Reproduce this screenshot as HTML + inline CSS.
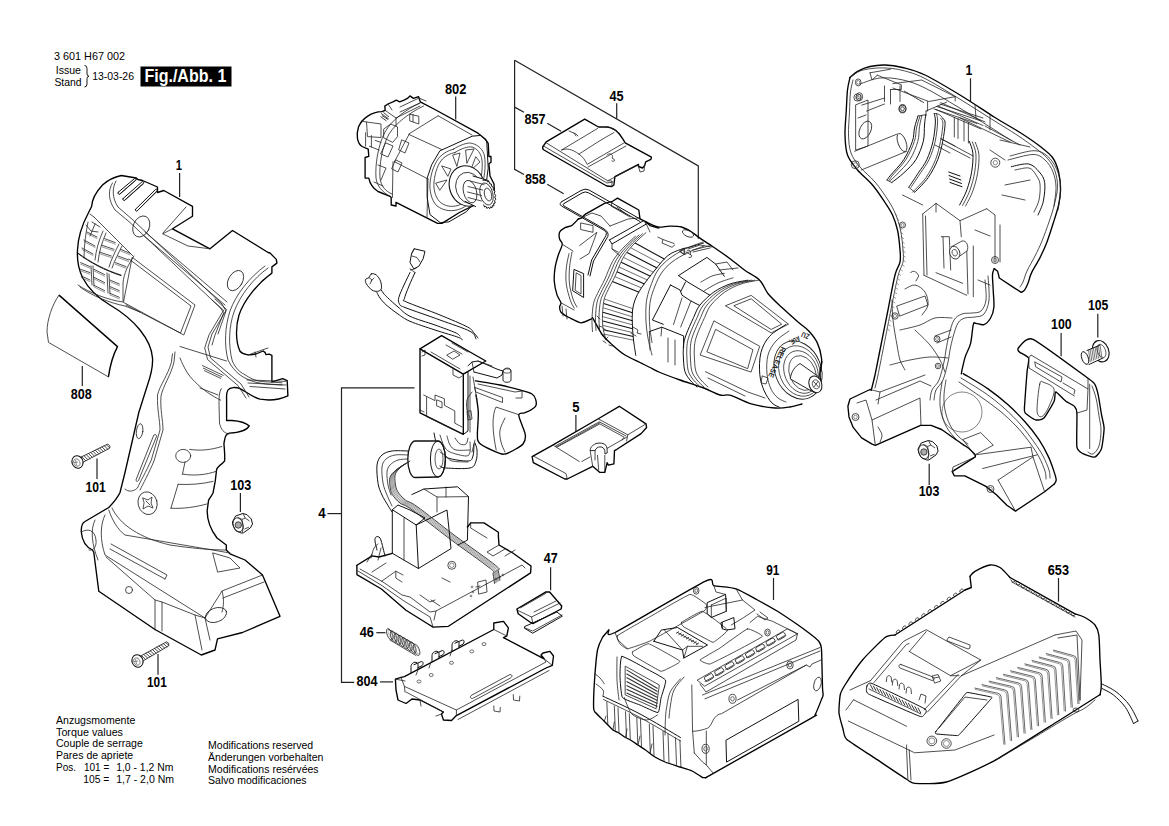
<!DOCTYPE html>
<html><head><meta charset="utf-8"><title>Fig 1</title>
<style>
html,body{margin:0;padding:0;background:#fff;}
body{width:1169px;height:826px;overflow:hidden;}
svg{display:block;}
text{font-family:"Liberation Sans",sans-serif;fill:#000;}
.lb{font-weight:bold;font-size:13.8px;}
.t{font-size:10px;}
.o{fill:none;stroke:#000;stroke-width:1.35;stroke-linejoin:round;stroke-linecap:round;}
.m{fill:none;stroke:#111;stroke-width:1;stroke-linejoin:round;stroke-linecap:round;}
.i{fill:none;stroke:#222;stroke-width:0.8;stroke-linejoin:round;stroke-linecap:round;}
.ld{fill:none;stroke:#222;stroke-width:1.2;}
</style></head>
<body>
<svg width="1169" height="826" viewBox="0 0 1169 826">
<rect width="1169" height="826" fill="#fff"/>
<!-- header -->
<text x="54" y="59.5" style="font-size:11px" textLength="71" lengthAdjust="spacingAndGlyphs">3 601 H67 002</text>
<text x="55.7" y="74" style="font-size:11px" textLength="25.3" lengthAdjust="spacingAndGlyphs">Issue</text>
<text x="54.4" y="86" style="font-size:11px" textLength="27.2" lengthAdjust="spacingAndGlyphs">Stand</text>
<path d="M84.5,65.5 Q87,65.5 87,68.5 L87,74 Q87,76 89,76.2 Q87,76.4 87,78.5 L87,84 Q87,87 84.5,87" fill="none" stroke="#000" stroke-width="0.9"/>
<text x="92.2" y="80" style="font-size:11px" textLength="41.8" lengthAdjust="spacingAndGlyphs">13-03-26</text>
<rect x="140.5" y="66.5" width="91" height="20" fill="#000"/>
<text x="144.4" y="81.8" style="font-size:17.5px;font-weight:bold;fill:#fff" textLength="82" lengthAdjust="spacingAndGlyphs">Fig./Abb. 1</text>
<!-- bottom text -->
<g class="t">
<text x="56" y="723.8" textLength="79.3" lengthAdjust="spacingAndGlyphs">Anzugsmomente</text>
<text x="56" y="735.5" textLength="67" lengthAdjust="spacingAndGlyphs">Torque values</text>
<text x="56" y="747.1" textLength="86.8" lengthAdjust="spacingAndGlyphs">Couple de serrage</text>
<text x="56" y="759.1" textLength="77.2" lengthAdjust="spacingAndGlyphs">Pares de apriete</text>
<text x="56" y="770.8">Pos.</text>
<text x="83.9" y="770.8" textLength="25.4" lengthAdjust="spacingAndGlyphs">101 =</text>
<text x="116.2" y="770.8" textLength="57.2" lengthAdjust="spacingAndGlyphs">1,0 - 1,2 Nm</text>
<text x="83.2" y="782.5" textLength="26.1" lengthAdjust="spacingAndGlyphs">105 =</text>
<text x="116.2" y="782.5" textLength="57.8" lengthAdjust="spacingAndGlyphs">1,7 - 2,0 Nm</text>
<text x="208.1" y="749.2" textLength="105.1" lengthAdjust="spacingAndGlyphs">Modifications reserved</text>
<text x="208.1" y="760.9" textLength="115.3" lengthAdjust="spacingAndGlyphs">Änderungen vorbehalten</text>
<text x="208.1" y="772.5" textLength="110.5" lengthAdjust="spacingAndGlyphs">Modifications resérvées</text>
<text x="208.1" y="784.1" textLength="98.5" lengthAdjust="spacingAndGlyphs">Salvo modificaciones</text>
</g>
<!-- labels -->
<g class="lb">
<text x="175.8" y="170" textLength="6.2" lengthAdjust="spacingAndGlyphs">1</text>
<text x="70.7" y="399" textLength="21" lengthAdjust="spacingAndGlyphs">808</text>
<text x="85.5" y="491.5" textLength="20.2" lengthAdjust="spacingAndGlyphs">101</text>
<text x="230.2" y="490" textLength="21" lengthAdjust="spacingAndGlyphs">103</text>
<text x="147" y="687.3" textLength="19.7" lengthAdjust="spacingAndGlyphs">101</text>
<text x="444.9" y="93.5" textLength="21.5" lengthAdjust="spacingAndGlyphs">802</text>
<text x="609.5" y="100.5" textLength="14.1" lengthAdjust="spacingAndGlyphs">45</text>
<text x="524.5" y="123.7" textLength="21.1" lengthAdjust="spacingAndGlyphs">857</text>
<text x="524.9" y="184" textLength="20.9" lengthAdjust="spacingAndGlyphs">858</text>
<text x="572.2" y="411.7" textLength="7.3" lengthAdjust="spacingAndGlyphs">5</text>
<text x="318.2" y="518" textLength="7.4" lengthAdjust="spacingAndGlyphs">4</text>
<text x="543.7" y="563.2" textLength="13.9" lengthAdjust="spacingAndGlyphs">47</text>
<text x="359.8" y="637" textLength="14.1" lengthAdjust="spacingAndGlyphs">46</text>
<text x="356.4" y="685.6" textLength="21.1" lengthAdjust="spacingAndGlyphs">804</text>
<text x="766.2" y="575" textLength="13.1" lengthAdjust="spacingAndGlyphs">91</text>
<text x="1047.8" y="574.7" textLength="21.2" lengthAdjust="spacingAndGlyphs">653</text>
<text x="965.5" y="75.2" textLength="6.8" lengthAdjust="spacingAndGlyphs">1</text>
<text x="1087.9" y="310.4" textLength="20.4" lengthAdjust="spacingAndGlyphs">105</text>
<text x="1051.1" y="329.3" textLength="20.6" lengthAdjust="spacingAndGlyphs">100</text>
<text x="918.7" y="496.3" textLength="20.8" lengthAdjust="spacingAndGlyphs">103</text>
</g>
<!-- leader lines -->
<g class="ld">
<path d="M179.6,173 V197"/>
<path d="M82.3,366 V386"/>
<path d="M97,458.5 V479"/>
<path d="M240.4,493 V512"/>
<path d="M158,654 V674.7"/>
<path d="M455.7,96.5 V119.6"/>
<path d="M514.6,60.3 L698.3,165.9 V238.8"/>
<path d="M514.6,60.3 V169.3 L524,174.5"/>
<path d="M514.6,107.1 L524,112.3"/>
<path d="M547.2,123.3 L561.1,131.3"/>
<path d="M547.2,184.3 L563.7,193.7"/>
<path d="M616.7,103.3 V118.7"/>
<path d="M575.9,414.9 V432"/>
<path d="M414.5,387.8 H341.5 V682.3 H354.2"/>
<path d="M327.4,513.6 H341.5"/>
<path d="M376.3,632.7 H385.5"/>
<path d="M379.9,681.9 H393"/>
<path d="M550.6,567.2 V590.2"/>
<path d="M773.5,577.9 V600"/>
<path d="M1058.5,578 V601.6"/>
<path d="M970.5,78.3 V101.6"/>
<path d="M1097.8,313.7 V337.5"/>
<path d="M1061.1,333.1 V356.3"/>
<path d="M929.2,463.8 V484.9"/>
</g>

<!-- left housing outline -->
<path class="o" d="M121.3,175.5 L136.3,178 L138,179.5 L142.5,180.5 L157.5,187 L157.5,192.5 L163.8,190.5 L192.5,206.3 L192.5,216.3 L172.5,228.8 L210,248.8 L232.5,230.5 L268.1,252.5 L270,253 L276.3,259.4 L276.9,263.1 L271.9,266.9 L271.9,273.1
C258,283 244,300 239,315 C236,325 235,340 240,351.3 C243,355 250,355.5 256,354 L263.2,351 L265.2,352.6 L265.9,354.6 L269.2,354.2 L271.9,355.3 L271.9,381.9 L282.6,378.6 L287.2,380.6 L287.9,395.9 C280,399.5 270,401 260,399.2 C252,397 245,391 240,388.6 C236,387 230,387 228,390 C226,393 226.6,396 226.6,400 L226.6,420.5 L232,420.5 C240,421 246,423 249.3,425.9 C247,430 240,432.5 229.3,433.2 C226,434 225,437 224.6,440
L223.9,443.6 C224.5,450 225,457 224.6,461 L221.7,463.9 C219,466 217,468 216.6,469.7 L215.2,481.4 L213,493 C211,497 209,499 208.6,500.2 L207.2,510.4 C207,520 211,530 217,538 L226.3,545 L226.3,550 L230,553.8 L245,560 L262.5,575 L280,616.3 L242.5,632.5 L217.5,638.8 L215,650 L201.3,655 L155,629.5 L98.8,591.3 L93.8,552.5 L92.5,550 C86,547 82,540 81.3,532 C81,526 82,523 85,521.5 L108.8,507.5 C114,502 118,497 120,492.5 L125,472.5 L132.5,440 L138.8,412.5 L147.5,385 C151,375 153,365 152.5,358 C152,350 148,340 140,330 C132,320 122,312 110,305 C98,298 88,288 82.5,277.5 C78,268 77,258 77.5,250 C78,238 82,225 88.2,213.3 L91.6,206.5 C92,199 96,192 102.5,185 C108,180 114,177 121.3,175.5 Z"/>
<!-- top slots -->
<path class="m" d="M118.2,192.3 L134.5,178.6 C135.5,177.8 136.8,179 135.8,180 L119.8,194 C118.8,194.8 117.4,193.2 118.2,192.3 Z"/>
<path class="m" d="M123,198.6 L142,181.8 C143,181 144.4,182.3 143.4,183.3 L124.7,200.2 C123.7,201 122.2,199.5 123,198.6 Z"/>
<path class="m" d="M135.5,209.3 L155.7,189.3 C156.7,188.5 158,189.8 157,190.8 L137.2,210.9 C136.2,211.7 134.7,210.2 135.5,209.3 Z"/>
<path class="i" d="M119.5,194.5 L136.5,179.7 M124.5,200.5 L143.8,183.5 M137,211 L157.5,191"/>
<!-- ridge/panel double lines -->
<path class="i" d="M112.5,183 C108,190 108,200 115,210 L130,222.5 L220,307.5 L223.8,312.5 L215,335 L212,345"/>
<path class="i" d="M116,181 C112,188 112,198 118,207 L133,220 L222,304 L226,311 L218,334"/>
<path class="i" d="M143,235 L225,305 M145,232 L227,302"/>
<path class="i" d="M172.5,228.8 L162.6,233.8 L188,246 L210,248.8 M186,207 L163,233"/>
<!-- ovals -->
<ellipse class="i" cx="141.3" cy="226.5" rx="8" ry="11" transform="rotate(25 141.3 226.5)"/>
<ellipse class="i" cx="235.5" cy="280.6" rx="7" ry="11" transform="rotate(30 235.5 280.6)"/>
<!-- arc inner lines -->
<path class="i" d="M268,268 C254,278 240,295 234,312 C229,326 228,345 232.3,361 C236,369 240,372 243.9,374.1 C250,378 255,381 262,381.6 L282,382.8"/>
<path class="i" d="M265,266 C250,277 236,294 230,311 C225,326 224,345 228,360 C232,368 238,375 247,379 C255,383 265,384.5 282,385"/>
<!-- window panel -->
<path class="i" d="M132.5,257.5 L195,305 L183.8,335 L123.8,302.5 Z"/>
<path class="i" d="M129,259 L191,306 L180.5,333 L126,305"/>
<!-- front vent grid -->
<path class="i" d="M94,217 L133,256 M78,253 C90,262 105,270 121,275 M134,256 C128,265 124,273 123,283 L123,301 M78,285 C90,293 108,300 123,302"/>
<path class="m" d="M78,253.5 C90,262.5 105,270.5 121,275.5"/>
<path class="i" d="M103,231 C99,240 96,250 95,260 M106,233 C102,242 99,252 98,262 M119,244 C115,252 111,260 109,267 M122,246 C118,254 114,262 112,268"/>
<path class="i" d="M87,232 L97,237 M84,240 L95,246 M82,248 L93,254 M92,222 L100,227 M95,224 L90,236"/>
<path class="i" d="M104.6,238.6 L115.3,242.6 M102,245.3 L114,249.3 M99.3,252 L111.3,256 M120.6,249.3 L130,253.3 M118,256 L128.6,260 M115.3,262.6 L126,266.6"/>
<path class="i" d="M91,266 L92,285 M93,266 L94,286 M107,273 L108,293 M109,274 L110,294"/>
<path class="i" d="M80.6,262.6 L90,266.6 M80.6,269.3 L90,272.6 M81.3,276 L90,280 M94,269.3 L104.6,274.6 M94,277.3 L104.6,282.6 M94,285.3 L104.6,290.6 M110,280 L119.3,284 M110,286.6 L119.3,290.6 M110,293.3 L119.3,297.3"/>
<path class="i" d="M80,287 C92,296 110,303 125,306 L140,312"/>
<path class="i" d="M87,233.5 L97,238.5 M84,241.5 L95,247.5 M82,249.5 L93,255.5 M104.6,240.2 L115.3,244.2 M102,246.9 L114,250.9 M99.3,253.6 L111.3,257.6 M120.6,250.9 L130,254.9 M118,257.6 L128.6,261.6 M115.3,264.2 L126,268.2 M80.6,264.2 L90,268.2 M80.6,270.9 L90,274.2 M81.3,277.6 L90,281.6 M94,270.9 L104.6,276.2 M94,278.9 L104.6,284.2 M94,286.9 L104.6,292.2 M110,281.6 L119.3,285.6 M110,288.2 L119.3,292.2 M110,294.9 L119.3,298.9" style="stroke:#555;stroke-width:0.6"/>
<path class="i" d="M90,214 L94,217 M86,225 L91,231 L98,232 M88,222 C86,232 84,245 84,258"/>

<!-- handle grip panel -->
<path class="i" d="M172.5,353.8 L171.3,362.5 C168,375 160,385 157.5,395 C157,410 160,420 160,430 L151.3,460 C146,472 140,482 137.5,488 C133,492 128,492 125,489"/>
<path class="i" d="M175,352 L174,362 C171,375 163,386 161,396 C160,410 163,420 163,430 L154,461 C149,473 143,484 140,490"/>
<path class="i" d="M154.1,434.9 C155.5,434 157,435 156.5,436.5 L138.5,480.5 C137.5,482 135.5,481.5 136,479.9 Z"/>
<ellipse class="i" cx="139.6" cy="431.2" rx="3.2" ry="7.5" transform="rotate(8 139.6 431.2)"/>
<path class="i" d="M189.7,449.4 C200,451 211,450 221.7,446.5 M182.5,474.1 C194,476 206,475 216.6,471.2 M185,462 L182.5,474.1 M178.1,484.3 C190,485 202,484 213,481.4 M170.9,508.2 C183,509 196,507 207.2,503.9 M178.1,484.3 L170.9,508.2"/>
<ellipse class="i" cx="183.2" cy="455.9" rx="7.5" ry="6.5"/>
<ellipse class="i" cx="147.6" cy="503.2" rx="9.5" ry="11.5" transform="rotate(-15 147.6 503.2)"/>
<path class="i" d="M143,498 L148,500 L152,497 L151,503 L153,508 L148,506 L143,509 L144,503 Z M146,501 L150,505"/>
<!-- flange / trigger extra -->
<path class="i" d="M212,300 L223.6,310.2 L209,334.9 L204.7,347.9 L207.6,359.6 L238.1,385.7 L246,398"/>
<path class="i" d="M215,299 L226.6,309.5 L212,334 L208,347 L210.5,358 L241,384 L249,397"/>
<path class="i" d="M180,346.5 L226.5,361 M180,358 C184,368 188,375 194.5,381.4 C203,390 212,396 220.7,400.2"/>
<path class="i" d="M246.8,379.9 L286,381.4 M248,383 L286,385 M250,386.5 L285,389"/>
<path d="M202,365.4 L223.6,375.5 M203,368 L222,377 M204,370.5 L221,378.5" fill="none" stroke="#444" stroke-width="0.9"/>
<!-- trigger inner -->
<path class="i" d="M221.3,388.6 C219,392 219,398 219,404 L219.5,423 C221,430 224,433 229,434"/>
<path class="i" d="M200,388 L218,395"/>
<path class="i" d="M248,355 L268,348 M255,352 L256,357"/>
<!-- foot -->
<path class="i" d="M108.8,510 C112,520 118,530 125,535 L230,553 M112,508 C120,525 140,538 170,545 C190,548 210,550 226,550"/>
<path class="i" d="M105,515 C100,525 100,540 105,555 L205,618 L210,640 M95,520 C90,530 92,545 98,560"/>
<path class="i" d="M110,549 L165,579 M111,544 L167,575 L165,579 M106,557 L155,600 L162,602 L162,631"/>
<path class="i" d="M155,600 L155,630"/>
<circle class="i" cx="129" cy="590" r="3.5"/>
<path class="i" d="M162,602 L195,615 L202,650 M195,615 L205,618"/>
<path class="i" d="M222,591 L262.5,575 M223,598 L264,582 M205,618 L222,591 C224,598 224,605 222,612"/>
<ellipse class="i" cx="216" cy="615" rx="11" ry="7" transform="rotate(-20 216 615)"/>
<path class="i" d="M213,553 L230,558 L240,568 L218,572 Z"/>
<path class="i" d="M81.3,532 C88,528 95,530 96,540 C97,548 92,551 89,550"/>


<!-- 808 label sheet -->
<path d="M59,295.1 L117.5,346.6 C113,355 110,366 108.4,376.9" fill="none" stroke="#000" stroke-width="1.4" stroke-linejoin="round"/>
<path class="i" d="M59,295.1 C52,305 47,320 47,332 L48.5,342.4 L108.4,376.9"/>
<!-- screw 101 upper -->
<path d="M81.4,463.1 L109.7,448.2 Q110.7,445.1 107.6,444.2 L78.9,458.1" fill="#fff" stroke="#111" stroke-width="0.8"/>
<path d="M85.8,460.9 L81.7,456.7 M88.0,459.8 L83.9,455.6 M90.3,458.7 L86.1,454.5 M92.5,457.5 L88.3,453.4 M94.7,456.4 L90.6,452.2 M96.9,455.3 L92.8,451.1 M99.2,454.1 L95.0,450.0 M101.4,453.0 L97.2,448.8 M103.6,451.9 L99.5,447.7 M105.8,450.8 L101.7,446.6 M108.1,449.6 L103.9,445.4 M110.0,448.0 L106.4,444.8" fill="none" stroke="#333" stroke-width="0.9"/>
<ellipse cx="77.5" cy="462" rx="5.5" ry="6.3" transform="rotate(-20 77.5 462)" fill="#fff" stroke="#111" stroke-width="1"/>
<ellipse cx="76.7" cy="462.3" rx="3.0" ry="3.8" transform="rotate(-20 77.5 462)" fill="none" stroke="#444" stroke-width="0.6"/>
<path d="M75.5,460.0 L76.5,465.0 M74.0,462.5 L78.0,462.0" fill="none" stroke="#444" stroke-width="0.6"/>
<!-- screw 101 lower -->
<path d="M141.5,661.9 L168.8,645.7 Q169.7,642.6 166.6,641.8 L138.7,657.1" fill="#fff" stroke="#111" stroke-width="0.8"/>
<path d="M145.7,659.5 L141.4,655.5 M147.9,658.3 L143.6,654.3 M150.1,657.1 L145.7,653.1 M152.2,655.8 L147.9,651.9 M154.4,654.6 L150.0,650.6 M156.5,653.4 L152.2,649.4 M158.7,652.1 L154.3,648.2 M160.8,650.9 L156.5,646.9 M163.0,649.7 L158.6,645.7 M165.1,648.4 L160.8,644.5 M167.3,647.2 L162.9,643.2 M169.2,645.5 L165.4,642.5" fill="none" stroke="#333" stroke-width="0.9"/>
<ellipse cx="137.5" cy="661" rx="5.5" ry="6.3" transform="rotate(-20 137.5 661)" fill="#fff" stroke="#111" stroke-width="1"/>
<ellipse cx="136.7" cy="661.3" rx="3.0" ry="3.8" transform="rotate(-20 137.5 661)" fill="none" stroke="#444" stroke-width="0.6"/>
<path d="M135.5,659.0 L136.5,664.0 M134.0,661.5 L138.0,661.0" fill="none" stroke="#444" stroke-width="0.6"/>
<!-- nut 103 left -->
<polygon points="232.4,522.0 235.6,516.0 242.8,513.5 247.0,514.7 251.3,519.0 252.5,524.0 250.4,527.9 243.2,533.0 241.1,533.0 235.6,530.4 233.0,525.3" fill="#fff" stroke="#111" stroke-width="1" stroke-linejoin="round"/>
<ellipse cx="238.1" cy="524.9" rx="4.9" ry="7.2" transform="rotate(-15 238.1 524.9)" fill="none" stroke="#222" stroke-width="0.8"/>
<circle cx="238.3" cy="525.0" r="3.2" fill="#aaa" stroke="#222" stroke-width="0.8"/>
<path d="M237.7,517.3 242.0,519.4 245.3,518.1 242.8,513.5 M242.0,519.4 243.2,527.9 242.4,532.5 M248.9,527.2 244.5,529.0 M245.3,518.1 249.5,521.0" fill="none" stroke="#222" stroke-width="0.8"/>

<!-- motor 802 -->
<path class="o" d="M381.8,111.7 C372,112 362,118 358.5,127 C356,135 357,143 362,146.5 L368.2,149.1 L368.8,156.3 L365.1,157.5 L365.1,178.1 L368.8,178.1 C370,184 374,189 378,191.5 L390,196.3 L391.2,197.5 L391.2,205 L396,206 L396,202.3 L437.6,223.4 L442,223.4 L459.4,212.5 L476.9,203.8 L485,200 L491,197 L494.3,190.7 L494,184 L490,176 L488.9,163.8 L491,162.3 L491,156.5 L488.9,156.5 L488.2,143.4 L485.2,139 L478,133.2 L435.8,110 L420.3,101.8 L418.6,96.7 L413.4,98.4 L410,95.9 L407.4,98.4 L404,100.1 L399.7,101.8 L396.3,100.1 L392.9,101.8 L388,104 L384.8,106.1 L385.2,110.4 Z"/>
<path class="i" d="M420,103 C405,110 392,120 385,132 C378,145 375,165 376,178 C377,186 382,192 390,196.3"/>
<path class="i" d="M423.5,106 C409,113 396,123 389,134 C382,147 379,165 380,178 C381,186 385,191 392,194"/>
<path class="i" d="M393,161.7 L392.4,197.5 M394.5,161.7 L428,179 M409,134.5 L441.7,149.5 M409,134.5 L394.5,161.7 M428,179 L427,216.9 M438.1,115.8 L409.1,133.8 M438.1,115.8 L472,135"/>
<path class="m" d="M440.2,150.7 L472.2,136.2 L480.9,135.4 L486.7,141.2 L488.2,168.1 L486.7,179.7 L479.4,197.2 L466.4,211.7 L448.9,221.9 L440.2,222.6 L430,214.6 L427.1,197.2 L427.1,178.3 L431.5,165.2 Z"/>
<path class="i" d="M453.3,149.2 C460,145 468,142 472.2,143.4 C478,145 483,149 484.5,156 C486,165 485,180 479.4,191.4 C474,200 468,206 460,209 C452,212 444,211 437,206 C431,200 429.5,190 430,183 C431,172 435,162 440.2,156.5 C444,153 448,150.5 453.3,149.2 Z"/>
<path class="i" d="M455,152.5 C462,148 468,146.5 472,147 C477,148.5 481,153 482,160 C483,170 481,182 476,190 C471,198 465,203 458,205.5 C451,207.5 444,206 439.5,201.5 C434.5,196 433.5,188 434,182 C435,172 438,164 442.5,159 C446,155.5 450,153.5 455,152.5 Z"/>
<path class="i" d="M453,155 L460,153 L457,166 Z M466,150 L474,149 L467,163 Z M442,166 L451,169 L448,176 Z M436,183 L447,180 L440,190 Z M476,157 L480,162 L471,170 Z"/>
<ellipse cx="467" cy="186" rx="17.5" ry="20.5" transform="rotate(-20 467 186)" fill="#fff" stroke="#111" stroke-width="1.1"/>
<ellipse class="i" cx="469" cy="188" rx="13" ry="16" transform="rotate(-20 469 188)"/>
<path d="M471,180.5 L473,176 L488.3,180 L494,194 L486,207.5 L475.6,206.6 L465,201.3 Z" fill="#fff" stroke="none"/>
<path d="M483.0,181.0 L483.8,179.2 L485.2,180.9 L486.4,179.7 L487.5,181.9 L489.0,181.4 L489.8,183.8 L491.3,184.0 L491.8,186.5 L493.4,187.4 L493.3,189.8 L494.8,191.3 L494.4,193.5 L495.6,195.5 L494.8,197.1 L495.8,199.5 L494.6,200.6 L495.1,203.1 L493.7,203.5 L493.8,205.9 L492.3,205.6 L492.0,207.9 L490.4,206.9 L489.7,208.7 L488.2,207.2 L487.1,208.5 L485.9,206.4 L484.6,207.0 L483.6,204.6" fill="#fff" stroke="#111" stroke-width="1"/>
<ellipse cx="486.5" cy="194" rx="6.3" ry="11.3" transform="rotate(-15 486.5 194)" fill="none" stroke="#222" stroke-width="0.8"/>
<ellipse cx="488" cy="194.5" rx="3.5" ry="6.5" transform="rotate(-15 488 194.5)" fill="none" stroke="#222" stroke-width="0.8"/>
<path class="m" d="M473,176 L488.3,180.5 M465,201.3 L475.6,206.6"/>
<ellipse cx="470" cy="191.6" rx="6.5" ry="11.5" transform="rotate(-15 470 191.6)" fill="none" stroke="#222" stroke-width="0.8"/>
<path class="i" d="M470,181 L484,184.5 M468,186.5 L482.5,190 M467.5,192 L481.5,195.5 M468,197.5 L481.5,201"/>
<!-- brush holder details -->
<path class="i" d="M361.7,121 L366.5,122 L381,124 L381,137.5 L367.5,136.6 L366.5,122 M365.6,132.7 L365.6,146.2 M371.4,135.6 L371.4,147 M375.2,140.4 L381,142.4 M369.4,146.2 L379.1,150.1"/>
<path class="i" d="M384,128.8 L390.7,124 L397.5,127 L397.5,136.6 L392.7,142.4 L384,138 Z M386,143 L393,146 L388,157 L381,154 Z M410.1,114.3 L418.8,116.2 L418.8,124 L410.1,121 Z M413,114.5 L413,121.5"/>
<path d="M381,113.3 L388.8,119.1 M382,115.5 L388,119.5 M383.5,112.5 L389,117 M380.5,116.5 L386.5,121" fill="none" stroke="#444" stroke-width="1"/>
<path class="i" d="M385.2,110.4 L396,118 L420,106 M396,118 L396,126 M400,107 L419,98 L426,101 M400,112 L420,103 M388,104 L392,110"/>
<path class="i" d="M402,140 L409,143 L405,153 L399,150 Z M396,160 L402,163 L398,172 L392,169 Z M378,165 L386,168 L381,180 M374,182 L383,186"/>

<!-- chuck assembly 45 -->
<path class="o" d="M591.6,318.8 C590.2,319.3 583.9,323.0 580.9,322.8 C577.9,322.6 571.7,318.9 569.0,317.5 C566.3,316.1 562.3,313.6 561.0,312.2 C559.7,310.8 559.6,308.1 559.6,306.8 C559.6,305.5 561.3,304.4 561.0,302.8 C560.7,301.2 557.9,297.7 557.0,294.9 C556.1,292.1 554.6,285.1 554.3,281.5 C554.0,277.9 554.5,271.7 555.0,268.2 C555.5,264.7 557.3,258.2 558.3,255.0 C559.3,251.8 562.1,246.4 562.3,244.3 C562.5,242.2 560.0,240.6 559.6,239.0 C559.2,237.4 558.9,233.8 559.6,232.3 C560.3,230.8 563.4,228.5 565.0,227.6 C566.6,226.7 569.8,226.7 571.6,225.6 C573.4,224.5 577.4,219.9 578.3,219.0"/>
<path class="o" d="M578.3,219.0 L581.3,218.1 L585.0,214.4 L605.0,203.1 L612.5,201.3 L617.5,198.1 L638.8,210.0 L640.0,218.8 L645.0,221.3 L650.0,225.6 L658.8,228.1"/>
<path class="o" d="M645.9,221.9 C647.9,222.8 653.8,226.3 657.8,227.0 C661.8,227.7 665.8,226.1 669.7,226.1 C673.7,226.1 677.8,226.0 681.5,227.0 C685.2,228.0 688.9,230.3 691.7,232.0 C694.5,233.7 695.7,235.1 698.5,237.1 C701.3,239.1 705.2,241.6 708.6,243.9 C712.0,246.2 715.1,248.1 718.8,250.7 C722.5,253.2 726.4,256.0 730.7,259.2 C735.0,262.4 739.6,266.5 744.4,270.0 C749.2,273.5 755.8,276.2 759.7,280.2 C763.7,284.1 764.4,289.2 768.1,293.7 C771.8,298.2 776.6,302.5 781.7,307.3 C786.8,312.1 794.1,318.6 798.6,322.5 C803.1,326.4 805.7,327.6 808.8,331.0 C811.9,334.4 815.2,338.4 817.3,342.9 C819.4,347.4 820.9,353.3 821.5,358.1 C822.1,362.9 820.8,369.4 820.7,371.7"/>
<path class="o" d="M592.5,317.5 C594.2,320.4 599.2,330.4 602.5,335.0 C605.8,339.6 608.8,341.7 612.5,345.0 C616.2,348.3 620.4,352.1 625.0,355.0 C629.6,357.9 635.8,360.4 640.0,362.5 C644.2,364.6 646.7,365.8 650.0,367.5 C653.3,369.2 655.0,370.4 660.0,372.5 C665.0,374.6 672.9,377.5 680.0,380.0 C687.1,382.5 695.8,385.0 702.5,387.5 C709.2,390.0 715.3,393.7 720.0,395.0 C724.7,396.3 725.6,393.9 730.8,395.4 C736.0,396.9 743.8,401.8 751.2,403.9 C758.6,406.0 768.5,407.5 775.0,408.0 C781.5,408.5 785.5,407.7 790.0,407.0 C794.5,406.3 800.0,404.5 802.0,404.0"/>
<path class="i" d="M646.0,232.6 C643.8,234.7 636.8,240.8 633.0,245.0 C629.2,249.2 626.0,252.8 623.0,258.0 C620.0,263.2 617.5,271.0 615.0,276.3 C612.5,281.6 609.8,286.1 608.0,290.0 C606.2,293.9 604.9,295.8 604.0,300.0 C603.1,304.2 602.7,310.3 602.5,315.0 C602.3,319.7 602.5,324.2 603.0,328.0 C603.5,331.8 605.1,336.3 605.5,338.0"/>
<path class="m" d="M703.6,243.0 C701.3,243.7 693.9,245.9 690.0,247.0 C686.1,248.1 684.2,248.1 680.5,249.5 C676.8,250.9 672.1,252.2 667.9,255.6 C663.6,259.0 659.4,264.6 655.0,270.0 C650.6,275.4 644.7,282.9 641.4,287.9 C638.1,292.9 636.5,296.0 635.0,300.0 C633.5,304.0 632.8,307.8 632.4,312.0 C632.0,316.2 632.2,320.3 632.4,325.0 C632.6,329.7 632.9,334.9 633.5,340.0 C634.1,345.1 635.4,352.8 635.8,355.4"/>
<path class="i" d="M642.5,233.8 C640.3,235.9 633.3,242.0 629.5,246.2 C625.7,250.4 622.5,254.0 619.5,259.2 C616.5,264.4 614.0,272.2 611.5,277.5 C609.0,282.8 606.3,287.2 604.5,291.2 C602.7,295.1 601.4,297.0 600.5,301.2 C599.6,305.4 599.2,311.5 599.0,316.2 C598.8,320.9 599.4,327.0 599.5,329.2"/>
<path class="i" d="M639.0,235.0 C636.8,237.1 629.8,243.2 626.0,247.4 C622.2,251.6 619.0,255.2 616.0,260.4 C613.0,265.6 610.5,273.4 608.0,278.7 C605.5,284.0 602.8,288.4 601.0,292.4 C599.2,296.3 597.9,298.2 597.0,302.4 C596.1,306.6 595.7,312.7 595.5,317.4 C595.3,322.1 595.9,328.2 596.0,330.4"/>
<path class="i" d="M635.5,236.2 C633.3,238.3 626.3,244.4 622.5,248.6 C618.7,252.8 615.5,256.4 612.5,261.6 C609.5,266.8 607.0,274.6 604.5,279.9 C602.0,285.2 599.3,289.7 597.5,293.6 C595.7,297.6 594.4,299.4 593.5,303.6 C592.6,307.8 592.2,313.9 592.0,318.6 C591.8,323.3 592.4,329.4 592.5,331.6"/>
<path d="M635.1,243.0 L664.7,259.3 M627.2,252.6 L657.0,267.9 M621.2,262.2 L650.4,276.2 M617.0,271.8 L644.5,284.0 M612.4,281.4 L639.2,292.3 M603.7,303.4 L632.5,312.7 M602.8,312.2 L632.5,320.8 M602.7,321.0 L632.7,328.7 M603.5,329.8 L633.2,336.5" fill="none" stroke="#111" stroke-width="1.1"/>
<path d="M630.8,247.8 L660.7,263.7 M623.5,257.4 L653.4,272.2 M619.1,267.0 L647.5,280.1 M614.8,276.6 L641.4,287.9 M604.4,299.0 L633.2,308.8 M603.2,307.8 L632.4,316.8 M602.6,316.6 L632.5,324.8 M602.9,325.4 L633.0,332.7 M604.5,334.2 L633.5,340.2" fill="none" stroke="#333" stroke-width="0.7"/>
<path class="i" d="M702.5,242.2 C699.6,243.3 690.6,246.2 685.0,249.0 C679.4,251.8 673.5,255.4 669.0,258.9 C664.5,262.4 660.9,265.9 658.0,270.0 C655.1,274.1 653.4,278.9 651.6,283.6 C649.8,288.3 648.0,293.1 647.0,298.0 C646.0,302.9 645.9,307.7 645.8,312.7 C645.7,317.7 646.0,323.2 646.5,328.0 C647.0,332.8 647.8,337.2 648.7,341.7 C649.6,346.2 651.5,352.8 652.0,355.0"/>
<path class="i" d="M704.0,246.0 C701.3,247.1 693.3,249.8 688.0,252.5 C682.7,255.2 676.4,258.6 672.0,262.0 C667.6,265.4 664.3,269.0 661.5,273.0 C658.7,277.0 656.8,281.5 655.0,286.0 C653.2,290.5 651.5,295.3 650.5,300.0 C649.5,304.7 649.4,309.2 649.3,314.0 C649.2,318.8 649.5,324.2 650.0,329.0 C650.5,333.8 651.7,340.2 652.0,342.5"/>
<path class="i" d="M657.8,237.1 L663,239.5 L662,243 L672,247.3 L674.7,245 M663,239.5 L674,243.5"/>
<ellipse cx="688" cy="233.5" rx="6" ry="3" transform="rotate(25 688 233.5)" fill="none" stroke="#222" stroke-width="0.8"/>
<path class="i" d="M679.8,251 L684,248 L684,254 Z M686,252 L691,255 M688,249 L700,245 L712,247"/>
<path class="i" d="M603,328 L607,331 M605,340 L608,337 M609,345 L612,346"/>
<path class="m" d="M678.5,275.6 L706.9,257.4 L715.6,264.0 L724.3,276.3"/>
<path class="m" d="M678.5,275.6 L688.0,282.2 L709.8,295.2"/>
<path class="i" d="M700.8,282.2 C702.7,281.2 708.1,277.5 712.0,276.0 C715.9,274.5 722.2,273.8 724.3,273.4"/>
<path class="i" d="M704.0,290.9 C706.3,289.6 713.2,285.2 718.0,283.0 C722.8,280.8 730.5,278.7 733.0,277.8"/>
<path class="m" d="M685.5,282.0 L681.0,291.0"/>
<path class="m" d="M670.5,285.0 L652.4,320.0 L663.3,324.3"/>
<path class="m" d="M670.5,285.0 L680.0,290.0 L682.0,295.2 L690.9,301.0 L699.6,305.4"/>
<path class="i" d="M682,298 L673.5,324.5 M691,301 L680.7,327 M715.6,264 L727,262 L733,270 M719,270 L738,268"/>
<path class="m" d="M649.4,331.6 L661.8,327.2 L683.6,335.9 L683.6,347.6"/>
<path class="i" d="M661.8,327.2 L661,336 M668,338 L668,362 M675,340 L675,365 M649.4,331.6 L650,350"/>
<path class="i" d="M680.7,251.6 L684,248 L685,254.5 Z M687,251 C689,249 692,251 690,254 C692,255 693,258 689,257.4 M692.3,250.2 L709.8,245.8 M693,252 L710,248"/>
<path class="i" d="M597,316 L600,319 M599,326 L602,327 M601,334 L604,335 M603,341 L606,343"/>
<path class="i" d="M633,327 L638,330 L637,333 L641,334 M631,333 L636,336"/>
<path class="m" d="M747.8,280.2 C744.8,280.8 735.6,282.0 730.0,284.0 C724.4,286.0 718.9,288.5 713.9,292.0 C708.9,295.5 703.4,300.8 700.0,305.0 C696.6,309.2 695.9,312.5 693.6,317.5 C691.3,322.5 687.7,330.2 686.0,335.0 C684.3,339.8 683.8,342.1 683.4,346.3 C683.0,350.5 683.2,355.8 683.5,360.0 C683.8,364.2 683.9,368.4 685.0,371.7 C686.1,375.0 688.0,377.4 690.0,380.0 C692.0,382.6 695.8,385.8 697.0,387.0"/>
<path class="i" d="M751.3,280.2 C748.3,280.8 739.1,282.0 733.5,284.0 C727.9,286.0 722.4,288.5 717.4,292.0 C712.4,295.5 706.9,300.8 703.5,305.0 C700.1,309.2 699.4,312.5 697.1,317.5 C694.8,322.5 691.2,330.2 689.5,335.0 C687.8,339.8 687.3,342.1 686.9,346.3 C686.5,350.5 686.7,355.8 687.0,360.0 C687.3,364.2 687.4,368.4 688.5,371.7 C689.6,375.0 691.5,377.4 693.5,380.0 C695.5,382.6 699.3,385.8 700.5,387.0"/>
<path class="i" d="M754.8,280.2 C751.8,280.8 742.6,282.0 737.0,284.0 C731.4,286.0 725.9,288.5 720.9,292.0 C715.9,295.5 710.4,300.8 707.0,305.0 C703.6,309.2 702.9,312.5 700.6,317.5 C698.3,322.5 694.7,330.2 693.0,335.0 C691.3,339.8 690.8,342.1 690.4,346.3 C690.0,350.5 690.2,355.8 690.5,360.0 C690.8,364.2 690.9,368.4 692.0,371.7 C693.1,375.0 695.0,377.4 697.0,380.0 C699.0,382.6 702.8,385.8 704.0,387.0"/>
<path class="i" d="M758.8,280.2 C755.8,280.8 746.6,282.0 741.0,284.0 C735.4,286.0 729.9,288.5 724.9,292.0 C719.9,295.5 714.4,300.8 711.0,305.0 C707.6,309.2 706.9,312.5 704.6,317.5 C702.3,322.5 698.7,330.2 697.0,335.0 C695.3,339.8 694.8,342.1 694.4,346.3 C694.0,350.5 694.2,355.8 694.5,360.0 C694.8,364.2 694.9,368.4 696.0,371.7 C697.1,375.0 699.0,377.4 701.0,380.0 C703.0,382.6 706.8,385.8 708.0,387.0"/>
<path class="i" d="M725.8,305.6 L751.2,295.4 L788.5,324.2 L771.5,332.7 Z"/>
<path class="i" d="M734.2,305.6 L751.2,298.8 L781.7,324.2 L771.5,329.3 Z"/>
<path class="i" d="M700.3,354.7 L713.9,320.8 L759.7,346.3 L751.2,371.7 Z"/>
<path class="i" d="M707.0,351.4 L715.6,329.3 L752.9,349.7 L747.8,368.3 Z"/>
<path class="i" d="M705.4,371.7 L747.8,392.0 L765.0,398.0"/>
<path class="i" d="M708.0,378.0 L745.0,396.0"/>
<path class="m" d="M786.0,324.4 C783.3,326.4 773.8,331.6 769.6,336.3 C765.4,341.0 762.5,346.3 760.9,352.7 C759.3,359.1 759.2,368.1 759.8,374.5 C760.3,380.9 762.2,386.1 764.2,390.8 C766.2,395.5 769.3,400.1 771.8,402.8 C774.3,405.5 778.1,406.5 779.4,407.2"/>
<path class="i" d="M789.0,331.0 C786.8,332.7 779.5,337.0 776.0,341.0 C772.5,345.0 769.5,349.5 768.0,355.0 C766.5,360.5 766.5,368.3 767.0,374.0 C767.5,379.7 769.2,385.0 771.0,389.0 C772.8,393.0 775.5,395.8 778.0,398.0 C780.5,400.2 784.7,401.3 786.0,402.0"/>
<path class="o" d="M821.9,361.4 C821.5,363.6 819.9,371.4 819.8,374.5 C819.6,377.6 820.8,379.1 821.0,380.0"/>
<ellipse cx="798" cy="370" rx="23" ry="30" transform="rotate(-22 798 370)" fill="none" stroke="#222" stroke-width="0.9"/>
<ellipse cx="799.5" cy="371" rx="20" ry="26" transform="rotate(-22 799.5 371)" fill="none" stroke="#222" stroke-width="0.7"/>
<ellipse cx="801" cy="372" rx="16.5" ry="22" transform="rotate(-22 801 372)" fill="none" stroke="#222" stroke-width="0.7"/>
<ellipse cx="802.5" cy="373" rx="13" ry="18" transform="rotate(-22 802.5 373)" fill="none" stroke="#222" stroke-width="0.7"/>
<path d="M800.1,363.6 L818.7,376.7 L816,392 L811,390.8 L790.3,378.9 C791,372 795,366 800.1,363.6 Z" fill="#fff" stroke="#111" stroke-width="0.9"/>
<ellipse cx="815.4" cy="384.3" rx="6.3" ry="8.6" transform="rotate(-20 815.4 384.3)" fill="#fff" stroke="#111" stroke-width="1"/>
<ellipse cx="816" cy="384.3" rx="3.6" ry="4.6" transform="rotate(-20 816 384.3)" fill="none" stroke="#333" stroke-width="0.7"/>
<path class="i" d="M813.5,381.5 L818.5,387 M814,387 L818,381.5"/>
<text x="0" y="0" transform="translate(781.5,346.2) rotate(114)" style="font-size:7.5px;font-weight:bold;fill:#222" textLength="33" lengthAdjust="spacingAndGlyphs">RELEASE</text>
<text x="0" y="0" transform="translate(798.5,335.5) rotate(152)" style="font-size:7.5px;font-weight:bold;fill:#222" textLength="11" lengthAdjust="spacingAndGlyphs">AUF,</text>
<text x="0" y="0" transform="translate(810,334.5) rotate(200)" style="font-size:7.5px;font-weight:bold;fill:#222" textLength="8" lengthAdjust="spacingAndGlyphs">ZU</text>
<path class="i" d="M762.5,376 L768,378 L766,384 L761.5,383 Z"/>
<path class="i" d="M569.0,253.6 C568.5,256.0 566.8,263.1 566.3,268.2 C565.8,273.3 565.6,278.9 566.3,284.2 C567.0,289.5 569.0,296.2 570.3,300.2 C571.6,304.2 573.6,306.9 574.3,308.2"/>
<path class="i" d="M572.0,252.0 C571.6,254.7 569.9,262.7 569.5,268.0 C569.1,273.3 568.9,278.8 569.5,284.0 C570.1,289.2 571.8,295.2 573.0,299.0 C574.2,302.8 576.3,305.7 577.0,307.0"/>
<path class="m" d="M574.3,269.6 L583.6,273.6 L583.6,297.5 L573.0,290.9 Z"/>
<path class="i" d="M576.5,273.0 L581.0,275.5 L581.0,294.0 L575.5,290.5 Z"/>
<path class="i" d="M581.0,223.0 L593.0,225.6 L593.0,232.3 L581.0,229.6 Z"/>
<path class="i" d="M579.6,245.6 L596.9,232.3 L589.0,253.6 L580.0,259.0"/>
<path class="i" d="M562.3,244.3 L573,251 M561,302.8 L574,310 M562,306 L563,316 M566,309 L567,319 M581,218 L592,213 L601,216 L610,226 M610,226 L628,219 L638.8,218 M612.5,201.3 L611,206 L630,217 M617,207 L626,214"/>
<path class="m" d="M562,201.5 L581,190.5 Q585,188 589,190 L641,219.5"/>
<path class="m" d="M564,203.5 L582,193 Q585.5,191 588.5,192.8 L640,221.5"/>
<path class="m" d="M562,201.5 Q558.5,203.5 561.5,206 L604.5,230.5 Q607.5,232.5 606,235.5 L591.6,260 L588,275"/>
<path class="m" d="M564,203.5 Q562,204.8 564,206 L603,228.3 Q609.5,232 607.8,236.5 L593.5,261 L590,276"/>
<path class="m" d="M609.4,240.0 L643.8,220.6 L646.3,224.0 L612.0,244.0 L609.4,240.0"/>
<path class="i" d="M612,244 L612,249 L618,252 M646.3,224 L650,232 M612,249 L620,256"/>
<path class="o" d="M584.7,119.2 L546.2,141.8 L542.6,147.0 L543.1,149.5 L606.7,186.0 L611.9,186.5 L613.9,185.0 L614.9,176.7 L638.5,164.4 L638.5,166.5 L642.6,168.0 L644.7,165.4 L645.7,161.8 L650.9,159.3 L651.4,157.2 L625.2,142.8 C622,138 620,134 618,132.6 L616,130.5 C612,128 609,127 606.7,127 L598.5,127 Z"/>
<path class="i" d="M546.2,142.8 L607.7,180.8 L638.0,165.0"/>
<path class="i" d="M543.5,146.0 L607.0,183.0 L613.0,182.0"/>
<path class="i" d="M561.6,150 L597.5,128.5 M579,154.1 C590,147 602,139 613.9,132.6 M561.6,150 C566,148 572,149 579,154.1 C583,157 585,160 587.2,164.4 L624.2,142.8 M588,167 L626,146 M606.7,127 C611,127 615,130 618,133"/>
<path class="i" d="M569,131 L576,134 L578,136 M574,133 L576,136 M607,155 C610,152 614,155 612,158 C615,159 616,162 612,161"/>
<path class="i" d="M638.5,166.5 L640,172 L644,171 L644.7,165.4 M611.9,186.5 L612,181 L607.7,180.8"/>
<!-- switch + wires + module (4) -->
<path class="m" d="M414.4,248.8 L425.0,251.3 L423.1,258.8 L418.8,266.3 L413.8,268.8 L410.0,262.5 L411.5,254.0 Z"/>
<path class="i" d="M414.4,248.8 L411.5,254 M412,256 L417,257.5 L420,262 M410,268.8 L415,272.5 M410.5,270 L416,268.5"/>
<path class="m" d="M410.0,272.5 C409.0,274.6 405.9,280.8 404.0,285.0 C402.1,289.2 399.6,294.4 398.8,297.5 C398.0,300.6 398.4,302.1 399.4,303.8 C400.4,305.5 398.2,304.8 405.0,307.5 C411.8,310.2 429.2,316.0 440.0,320.0 C450.8,324.0 464.0,328.1 470.0,331.3 C476.0,334.5 475.0,337.7 476.0,339.0"/>
<path class="m" d="M415.0,272.5 C414.0,274.8 410.8,281.6 409.0,286.0 C407.2,290.4 404.8,296.2 404.4,298.8 C403.9,301.4 400.4,299.2 406.3,301.9 C412.2,304.6 429.8,310.8 440.0,315.0 C450.2,319.2 461.8,324.0 467.5,327.0 C473.2,330.0 472.2,331.2 474.0,333.0 C475.8,334.8 477.3,337.2 478.0,338.0"/>
<path class="m" d="M371.3,273.8 C372.5,273.4 374.8,273.8 376.3,275.0 C377.9,276.2 379.8,279.0 380.6,281.3 C381.4,283.6 381.8,287.1 381.3,288.8 C380.8,290.5 379.1,291.1 377.5,291.3 C375.9,291.5 373.8,291.2 371.9,290.0 C370.0,288.8 367.4,285.6 366.3,283.8 C365.2,282.1 365.2,280.6 365.6,279.5 C366.1,278.4 368.1,278.4 369.0,277.5 C369.9,276.6 370.1,274.2 371.3,273.8 Z"/>
<path class="i" d="M369,277.5 L372,280 L370,284 M371,281 L374,278"/>
<path class="m" d="M376.9,292.5 C377.4,293.4 378.4,295.9 380.0,298.0 C381.6,300.1 383.3,302.3 386.3,305.0 C389.3,307.7 394.1,311.3 398.0,314.0 C401.9,316.7 403.8,318.6 410.0,321.3 C416.2,324.0 426.9,327.3 435.0,330.0 C443.1,332.7 454.3,335.8 458.8,337.5 C463.3,339.2 461.5,339.6 462.0,340.0"/>
<path class="m" d="M381.3,290.0 C381.8,290.7 383.0,292.8 384.0,294.0 C385.0,295.2 385.2,295.3 387.5,297.5 C389.8,299.7 394.2,303.9 398.0,307.0 C401.8,310.1 403.8,313.3 410.0,316.3 C416.2,319.3 427.5,322.3 435.0,325.0 C442.5,327.7 450.8,330.7 455.0,332.5 C459.2,334.3 459.2,335.4 460.0,336.0"/>
<path class="o" d="M420.0,348.8 L441.6,335.6 L470.0,352.0 L485.8,361.0 L463.3,374.2 L420.0,348.8"/>
<path class="o" d="M420.0,348.8 L420.0,412.8 L463.3,434.4 L463.3,374.2"/>
<path class="m" d="M463.3,374.2 L468,371.5 L468,431 L463.3,434.4"/>
<path class="i" d="M422,352 L425,350 L425,355 L422,356 M453,368 L453,375 L459,378 L462,376 M431,352 L460,369 M447,355 L454,351 L460,355 L453,359 Z M446,345 L462,354 M452,343 L468,352"/>
<path class="i" d="M423.7,395.0 L435.0,400.6 L435.0,395.0 L444.4,398.7 L444.4,405.3 L454.8,410.9 L454.8,423.2 L462.0,427.0"/>
<path class="i" d="M426.6,397.0 L426.6,416.6 L452.0,429.0"/>
<path class="i" d="M437,400 L442,402 L442,408 L437,406 Z M420,410 L424,412"/>
<path class="m" d="M468.0,365.8 L472.0,362.0 L478.0,361.0 L498.0,369.5 L503.0,371.0 L502.0,375.0 L497.0,378.0 L474.0,372.0"/>
<path class="i" d="M472,362 L474,372 M478,361 L492,366"/>
<path d="M503,372 C503,367 511,367 511,371 L511,380 C511,383 503,383 503,380 Z" fill="#fff" stroke="#111" stroke-width="0.9"/>
<ellipse cx="507" cy="371" rx="4" ry="2.2" fill="none" stroke="#222" stroke-width="0.7"/>
<path class="o" d="M475.5,380.8 C479.6,381.5 492.5,383.4 500.0,385.0 C507.5,386.6 515.3,388.7 520.6,390.2 C525.9,391.7 529.5,392.4 532.0,394.0 C534.5,395.6 535.1,397.6 535.7,399.6 C536.3,401.6 536.7,404.2 535.7,406.0 C534.8,407.8 531.9,409.4 530.0,410.5 C528.1,411.6 526.3,412.1 524.4,412.8 C522.5,413.5 519.2,412.7 518.8,414.7 C518.4,416.7 520.9,421.6 522.0,425.0 C523.1,428.4 525.2,432.2 525.4,435.4 C525.6,438.6 524.9,441.6 523.0,444.0 C521.1,446.4 517.2,448.3 514.0,450.0 C510.8,451.7 507.3,454.1 503.7,454.2 C500.1,454.3 496.5,452.3 492.4,450.4 C488.3,448.5 481.8,445.4 479.3,442.9 C476.8,440.4 477.6,440.4 477.4,435.4 C477.2,430.4 478.5,419.5 478.3,412.8 C478.1,406.1 476.4,398.0 476.0,395.0"/>
<path class="i" d="M475,387.5 L502.5,397.5 L502.5,402.5 L476,392 Z M478,384 L515,392 L522,391 L522,398 L516,398 M518.8,414.7 L496,407 C492,415 492,430 496.2,450"/>
<path class="i" d="M505.0,418.0 C504.2,420.0 500.7,426.0 500.0,430.0 C499.3,434.0 500.2,438.3 501.0,442.0 C501.8,445.7 504.3,450.3 505.0,452.0"/>
<path class="i" d="M470,376 L470,432 M475,440 L472,452 M467,412 L468,420 L472,419 L471,411 Z M473,377 L477,400"/>
<path class="i" d="M472.0,392.0 C471.2,393.3 467.8,397.0 467.0,400.0 C466.2,403.0 466.5,407.0 467.0,410.0 C467.5,413.0 469.5,416.7 470.0,418.0"/>
<path class="m" d="M434.0,433.0 C434.5,435.0 435.5,441.8 437.0,445.0 C438.5,448.2 441.2,449.8 443.0,452.0 C444.8,454.2 443.8,456.5 448.0,458.0 C452.2,459.5 463.8,461.3 468.0,461.0 C472.2,460.7 472.0,458.8 473.0,456.0 C474.0,453.2 473.8,446.0 474.0,444.0"/>
<path class="i" d="M440.0,435.0 C440.7,436.8 442.3,443.2 444.0,446.0 C445.7,448.8 446.3,450.3 450.0,452.0 C453.7,453.7 462.7,456.0 466.0,456.0 C469.3,456.0 469.3,454.3 470.0,452.0 C470.7,449.7 470.0,443.7 470.0,442.0"/>
<path class="i" d="M447.0,436.0 C447.5,437.5 448.5,442.7 450.0,445.0 C451.5,447.3 452.7,449.2 456.0,450.0 C459.3,450.8 467.7,450.0 470.0,450.0"/>
<path class="i" d="M455.0,438.0 C455.8,439.0 458.2,443.0 460.0,444.0 C461.8,445.0 464.7,445.0 466.0,444.0 C467.3,443.0 467.7,439.0 468.0,438.0"/>
<path d="M415.3,441 L437.9,441 A7.5,18 0 0 1 437.9,477 L415.3,477.5 A7.5,18.2 0 0 1 415.3,441 Z" fill="#fff" stroke="#111" stroke-width="1.3"/>
<ellipse cx="437.9" cy="459" rx="7.5" ry="18" fill="none" stroke="#111" stroke-width="1"/>
<ellipse cx="439" cy="459" rx="4" ry="10" fill="none" stroke="#333" stroke-width="0.8"/>
<path class="i" d="M440.0,452.0 C441.0,452.7 444.0,454.5 446.0,456.0 C448.0,457.5 448.3,460.0 452.0,461.0 C455.7,462.0 465.3,461.8 468.0,462.0"/>
<path class="m" d="M440.0,466.0 C441.0,466.3 441.0,467.7 446.0,468.0 C451.0,468.3 465.0,469.2 470.0,468.0 C475.0,466.8 474.8,464.0 476.0,461.0 C477.2,458.0 477.2,453.0 477.0,450.0 C476.8,447.0 475.3,444.2 475.0,443.0"/>
<path class="m" d="M408.0,451.0 C405.3,451.0 396.3,450.3 392.0,451.0 C387.7,451.7 384.5,452.7 382.0,455.0 C379.5,457.3 377.6,460.2 377.0,465.0 C376.4,469.8 377.3,478.6 378.1,483.6 C378.9,488.6 380.4,491.4 382.0,495.0 C383.6,498.6 386.2,502.5 387.9,505.3 C389.6,508.1 391.3,510.9 392.0,512.0"/>
<path class="i" d="M408.0,455.0 C405.8,455.0 398.7,454.3 395.0,455.0 C391.3,455.7 388.2,457.0 386.0,459.0 C383.8,461.0 382.5,463.0 382.0,467.0 C381.5,471.0 382.2,478.3 383.0,483.0 C383.8,487.7 385.5,491.2 387.0,495.0 C388.5,498.8 391.2,504.2 392.0,506.0"/>
<path class="i" d="M408.0,459.0 C406.3,459.2 401.0,459.0 398.0,460.0 C395.0,461.0 391.8,463.0 390.0,465.0 C388.2,467.0 387.3,468.7 387.0,472.0 C386.7,475.3 387.3,481.2 388.0,485.0 C388.7,488.8 390.5,493.3 391.0,495.0"/>
<path d="M405.0,464.0 C403.5,465.0 398.5,467.8 396.0,470.0 C393.5,472.2 391.1,474.3 390.1,477.0 C389.1,479.7 389.6,483.1 390.0,486.0 C390.4,488.9 390.6,491.7 392.3,494.5 C394.0,497.3 396.7,500.5 400.0,503.0 C403.3,505.5 403.6,503.7 411.9,509.7 C420.2,515.7 436.9,529.2 450.0,539.0 C463.1,548.8 483.1,562.7 490.3,568.5 C497.5,574.3 492.3,571.5 493.0,574.0 C493.7,576.5 494.3,582.2 494.6,583.8" fill="none" stroke="#222" stroke-width="0.9"/>
<path d="M406.1,463.4 C404.6,464.4 399.5,467.2 397.1,469.4 C394.6,471.5 392.2,473.7 391.2,476.4 C390.2,479.0 390.7,482.5 391.1,485.4 C391.4,488.3 391.7,491.0 393.4,493.9 C395.0,496.7 397.8,499.8 401.1,502.4 C404.3,504.9 404.6,503.1 412.9,509.1 C421.3,515.1 438.0,528.6 451.1,538.4 C464.1,548.2 484.2,562.0 491.4,567.9 C498.5,573.7 493.3,570.8 494.1,573.4 C494.8,575.9 495.4,581.5 495.7,583.2" fill="none" stroke="#222" stroke-width="0.45"/>
<path d="M407.1,462.7 C405.6,463.7 400.6,466.6 398.1,468.7 C395.6,470.9 393.2,473.1 392.2,475.7 C391.2,478.4 391.7,481.8 392.1,484.7 C392.5,487.7 392.7,490.4 394.4,493.2 C396.1,496.1 398.8,499.2 402.1,501.7 C405.4,504.3 405.7,502.4 414.0,508.4 C422.3,514.4 439.0,527.9 452.1,537.7 C465.2,547.5 485.2,561.4 492.4,567.2 C499.6,573.1 494.4,570.2 495.1,572.7 C495.8,575.3 496.4,580.9 496.7,582.5" fill="none" stroke="#222" stroke-width="0.45"/>
<path d="M408.1,462.1 C406.6,463.1 401.6,465.9 399.1,468.1 C396.7,470.3 394.2,472.4 393.2,475.1 C392.2,477.8 392.8,481.2 393.1,484.1 C393.5,487.0 393.8,489.8 395.4,492.6 C397.1,495.4 399.9,498.6 403.1,501.1 C406.4,503.6 406.7,501.8 415.0,507.8 C423.4,513.8 440.1,527.3 453.1,537.1 C466.2,546.9 486.3,560.8 493.4,566.6 C500.6,572.4 495.4,569.6 496.1,572.1 C496.9,574.7 497.5,580.3 497.8,581.9" fill="none" stroke="#222" stroke-width="0.45"/>
<path d="M409.2,461.5 C407.7,462.5 402.7,465.3 400.2,467.5 C397.7,469.6 395.3,471.8 394.3,474.5 C393.3,477.1 393.8,480.6 394.2,483.5 C394.6,486.4 394.8,489.1 396.5,492.0 C398.2,494.8 400.9,497.9 404.2,500.5 C407.5,503.0 407.8,501.2 416.1,507.2 C424.4,513.2 441.1,526.7 454.2,536.5 C467.3,546.3 487.3,560.1 494.5,566.0 C501.7,571.8 496.5,568.9 497.2,571.5 C497.9,574.0 498.5,579.6 498.8,581.3" fill="none" stroke="#222" stroke-width="0.45"/>
<path d="M410.2,460.9 C408.8,461.9 403.7,464.7 401.2,466.9 C398.8,469.0 396.4,471.2 395.4,473.9 C394.4,476.5 394.9,479.9 395.2,482.9 C395.6,485.8 395.9,488.5 397.6,491.4 C399.2,494.2 402.0,497.3 405.2,499.9 C408.5,502.4 408.8,500.6 417.1,506.6 C425.5,512.5 442.2,526.1 455.2,535.9 C468.3,545.6 488.4,559.5 495.6,565.4 C502.7,571.2 497.5,568.3 498.2,570.9 C499.0,573.4 499.6,579.0 499.9,580.6" fill="none" stroke="#222" stroke-width="0.9"/>
<path class="m" d="M411.9,494.5 L424.0,489.0 L457.6,486.8 L468.5,496.6 L467.4,540.2 L458.0,545.0"/>
<path class="i" d="M424,489 L437,497 L468.5,496.6 M437,497 L437,512 M446,487 L446,497"/>
<path class="m" d="M392.3,509.7 L398.0,505.0 L410.0,510.0 L425.0,518.0 L416.2,525.0 L392.3,509.7"/>
<path class="m" d="M392.3,509.7 L392.3,553.3 L418.4,568.5 L416.2,525.0"/>
<path class="m" d="M416.2,525 L447,510 L451,548.6 L418.4,568.5"/>
<path class="i" d="M404,518 L404,560"/>
<path class="o" d="M356.9,565.3 L356.9,574.6 L381.4,589.0 L406.0,610.2 L428.0,624.0 L433.1,627.1 L448.4,626.3 L530.6,572.9 L531.0,566.0 L523.0,560.2 L512.8,553.0 L499.0,545.0 L498.4,536.4 L498.4,532.2 L484.0,522.9 L470.7,522.8 L467.4,527.0"/>
<path class="o" d="M356.9,565.3 L372.1,555.9 L379.0,557.0 L392.3,553.3"/>
<path class="i" d="M360.0,569.0 L383.0,582.0 L402.0,595.0 L410.0,597.0 L430.0,612.0 L436.0,611.0 L522.0,565.0 L525.0,568.0"/>
<path class="i" d="M358.0,571.0 L381.0,585.0 L404.0,601.0 L430.0,617.0 L433.1,627.1"/>
<path class="i" d="M381.4,581.4 L395.8,571.2 L403,575 M372,572 L386,563 M395.8,571.2 L395.8,578 L402,582 M420,595 L430,602 L435,600 M436,611 L434,620 M499,545 L487,552 L493,556 L505,549 M470.7,522.8 L470.7,528 L487,538 M505,556 L515,550 M431,600 L440,606 M442,578 L450,582"/>
<circle cx="451.8" cy="565.3" r="4" fill="none" stroke="#222" stroke-width="0.8"/>
<circle cx="451.8" cy="565.3" r="2.2" fill="none" stroke="#444" stroke-width="0.6"/>
<path class="i" d="M478,582 L486,580 L487,592 L479,594 Z M476,587 L480,586"/>
<circle cx="472" cy="587" r="0.9" fill="none" stroke="#333" stroke-width="0.6"/>
<circle cx="473" cy="592" r="0.9" fill="none" stroke="#333" stroke-width="0.6"/>
<circle cx="471" cy="596" r="0.9" fill="none" stroke="#333" stroke-width="0.6"/>
<circle cx="496" cy="579" r="0.9" fill="none" stroke="#333" stroke-width="0.6"/>
<circle cx="500" cy="577" r="0.9" fill="none" stroke="#333" stroke-width="0.6"/>
<circle cx="503" cy="575" r="0.9" fill="none" stroke="#333" stroke-width="0.6"/>
<path class="m" d="M377.0,550.0 C376.7,548.5 375.2,543.2 375.0,541.0 C374.8,538.8 375.2,537.5 376.0,537.0 C376.8,536.5 378.8,536.2 380.0,538.0 C381.2,539.8 382.2,545.0 383.0,548.0 C383.8,551.0 384.7,554.7 385.0,556.0"/>
<path class="i" d="M371.0,558.0 C371.5,556.3 372.8,550.3 374.0,548.0 C375.2,545.7 377.3,544.7 378.0,544.0"/>
<path class="i" d="M378,560 L381,548 M367,562 L372,554"/>
<!-- spring 46 -->
<ellipse cx="389.8" cy="634.4" rx="2.6" ry="6" transform="rotate(-22 389.8 634.4)" fill="none" stroke="#222" stroke-width="0.75"/>
<ellipse cx="390.4" cy="634.7" rx="1.6" ry="4.6" transform="rotate(-22 389.8 634.4)" fill="none" stroke="#888" stroke-width="0.5"/>
<ellipse cx="393.6" cy="636.6" rx="2.6" ry="6" transform="rotate(-22 393.6 636.6)" fill="none" stroke="#222" stroke-width="0.75"/>
<ellipse cx="394.2" cy="636.9" rx="1.6" ry="4.6" transform="rotate(-22 393.6 636.6)" fill="none" stroke="#888" stroke-width="0.5"/>
<ellipse cx="397.5" cy="638.8" rx="2.6" ry="6" transform="rotate(-22 397.5 638.8)" fill="none" stroke="#222" stroke-width="0.75"/>
<ellipse cx="398.1" cy="639.1" rx="1.6" ry="4.6" transform="rotate(-22 397.5 638.8)" fill="none" stroke="#888" stroke-width="0.5"/>
<ellipse cx="401.3" cy="641.0" rx="2.6" ry="6" transform="rotate(-22 401.3 641.0)" fill="none" stroke="#222" stroke-width="0.75"/>
<ellipse cx="401.9" cy="641.3" rx="1.6" ry="4.6" transform="rotate(-22 401.3 641.0)" fill="none" stroke="#888" stroke-width="0.5"/>
<ellipse cx="405.1" cy="643.2" rx="2.6" ry="6" transform="rotate(-22 405.1 643.2)" fill="none" stroke="#222" stroke-width="0.75"/>
<ellipse cx="405.7" cy="643.5" rx="1.6" ry="4.6" transform="rotate(-22 405.1 643.2)" fill="none" stroke="#888" stroke-width="0.5"/>
<ellipse cx="408.9" cy="645.4" rx="2.6" ry="6" transform="rotate(-22 408.9 645.4)" fill="none" stroke="#222" stroke-width="0.75"/>
<ellipse cx="409.5" cy="645.7" rx="1.6" ry="4.6" transform="rotate(-22 408.9 645.4)" fill="none" stroke="#888" stroke-width="0.5"/>
<ellipse cx="412.8" cy="647.6" rx="2.6" ry="6" transform="rotate(-22 412.8 647.6)" fill="none" stroke="#222" stroke-width="0.75"/>
<ellipse cx="413.4" cy="647.9" rx="1.6" ry="4.6" transform="rotate(-22 412.8 647.6)" fill="none" stroke="#888" stroke-width="0.5"/>
<ellipse cx="416.6" cy="649.8" rx="2.6" ry="6" transform="rotate(-22 416.6 649.8)" fill="none" stroke="#222" stroke-width="0.75"/>
<ellipse cx="417.2" cy="650.1" rx="1.6" ry="4.6" transform="rotate(-22 416.6 649.8)" fill="none" stroke="#888" stroke-width="0.5"/>
<path class="i" d="M388,629 L414,643.8 M390,640 L416,655.5"/>
<!-- plate 804 -->
<path class="o" d="M395.4,679.1 L401.1,677.4 L404.4,676.6 L493.8,629.5 L493.8,623.0 L503.5,621.4 L508.4,627.9 L506.8,636.0 L503.5,637.6 L544.1,658.8 L541.0,655.0 L543.0,653.0 L550.0,651.4 L553.5,656.0 L552.3,665.3 L546.0,668.0 L456.4,715.6 L451.5,720.5 L443.4,720.0 L441.5,714.0 L443.4,712.0 L420.0,700.0 L412.0,699.0 L406.0,703.5 L398.0,700.0 L396.0,690.0 L395.4,679.1"/>
<path class="m" d="M411,672.7 L411,666.7 C411,662.7 416,660.7 418,663.7 L418,668.7 M414,664.7 L421,661.7 C423,660.7 424,663.7 422,665.7 L418,667.7"/>
<path class="m" d="M432,661.7 L432,655.7 C432,651.7 437,649.7 439,652.7 L439,657.7 M435,653.7 L442,650.7 C444,649.7 445,652.7 443,654.7 L439,656.7"/>
<path class="m" d="M452,651.2 L452,645.2 C452,641.2 457,639.2 459,642.2 L459,647.2 M455,643.2 L462,640.2 C464,639.2 465,642.2 463,644.2 L459,646.2"/>
<path class="i" d="M404.4,686.4 L456.4,710.0 L546.0,662.0 L544.1,658.8"/>
<path class="i" d="M458.0,719.5 L549.0,670.5"/>
<path class="i" d="M401.1,677.4 L404.4,686.4 L405.0,692.0"/>
<path class="i" d="M456.4,710.0 L456.4,715.6"/>
<path class="i" d="M493.8,629.5 L506.8,636.0"/>
<path class="i" d="M544.1,658.8 L552.3,665.3"/>
<path class="i" d="M406,692 L443.4,712 M420,700 L421,706 M441.5,714 L436,716 M493.8,705.9 L494,711 L500,712 L500.3,707.5 M513.3,694.5 L513.5,700 L519.5,701 L519.8,696.1 M405,681 L395.4,679.1 M418,670 L416,675 M431,662 L429,668 M452,650 L450,656"/>
<path d="M472,695 L509,675 C512,673.5 513,676.5 510.5,678 L473.5,698 C470.5,699.5 469,696.5 472,695 Z" fill="none" stroke="#222" stroke-width="0.8"/>
<ellipse cx="419" cy="681.5" rx="2" ry="1.5" fill="none" stroke="#333" stroke-width="0.7"/>
<ellipse cx="431.2" cy="675" rx="2" ry="1.5" fill="none" stroke="#333" stroke-width="0.7"/>
<ellipse cx="451.5" cy="662.8" rx="2" ry="1.5" fill="none" stroke="#333" stroke-width="0.7"/>
<ellipse cx="471.8" cy="651.4" rx="2" ry="1.5" fill="none" stroke="#333" stroke-width="0.7"/>
<ellipse cx="484" cy="644.1" rx="2" ry="1.5" fill="none" stroke="#333" stroke-width="0.7"/>
<!-- button 47 -->
<path class="o" d="M516.9,609.0 L546.0,591.8 L549.6,592.0 L561.7,606.0 L561.1,609.0 L533.3,623.5 L530.3,622.3 L518.2,613.8 Z"/>
<path class="i" d="M518,610.5 L531.5,617 L560,603 M531.5,617 L532.7,622.3 M520.6,607.8 L546,593.3 M534,612 L556,601"/>
<path class="m" d="M524.8,626.5 L556.9,612.0 L562.3,616.2 L532.7,633.2 L524.8,628.4 Z"/>
<path class="i" d="M525,628 L532.7,631 L562,615"/>
<!-- slider 5 -->
<path class="o" d="M532.1,456.6 L552.7,445.1 L598.7,418.5 L619.3,406.3 L646.0,423.9 L646.6,427.5 L641.1,433.6 L616.9,449.3 L614.5,450.6 L613.9,463.9 L608.4,465.1 L607.2,462.7 L604.8,472.4 L599.9,472.4 L592.7,466.3 L567.2,479.0 L564.8,479.0 L533.3,462.7 Z"/>
<path class="i" d="M533.3,456 L566,473.6 L567.2,479 M553.9,445.7 L579.3,461.5 M598.7,419.1 L627.8,434.8 L646,423.9 M627.8,434.8 L626.6,441 M556.3,446.9 L599.9,422.7 M581.8,461.5 L590,457 M606,449 L626.6,437.2"/>
<path class="i" d="M557.5,446.9 L599.9,423.9 L624.2,437.2 L622.0,440.0"/>
<path class="i" d="M555.5,446.0 L599.3,421.8 L626.0,436.0"/>
<path d="M590.2,450.6 C590.5,447 592,445.5 596,443.5 C600,442.5 604,443 606,445.5 C607,447 607.2,449 607.2,453 L605,454 L604.8,450.6 C604,448 602.4,446.9 600,446.9 C598,446.9 596,448 595.1,450.6 Z" fill="#fff" stroke="#111" stroke-width="0.9"/>
<path class="i" d="M597.5,455.4 L598.7,469.9 M604.8,455.4 L604.8,472.4 M595.1,450.6 L595,460 M590.2,450.6 L592.7,466.3"/>
<!-- right housing (1) -->
<path class="o" d="M850.0,77.5 C851.2,76.5 854.2,73.1 857.5,71.3 C860.8,69.5 865.4,67.5 870.0,66.5 C874.6,65.5 879.6,64.8 885.0,65.0 C890.4,65.2 895.8,65.8 902.5,67.5 C909.2,69.2 915.4,70.4 925.0,75.0 C934.6,79.6 948.3,87.9 960.0,95.0 C971.7,102.1 985.0,111.2 995.0,117.5 C1005.0,123.8 1012.5,127.7 1020.0,132.5 C1027.5,137.3 1034.6,142.1 1040.0,146.3 C1045.4,150.5 1049.4,153.2 1052.5,157.5 C1055.6,161.8 1057.3,166.6 1058.6,172.0 C1059.9,177.4 1060.5,184.5 1060.5,190.0 C1060.5,195.5 1059.8,199.7 1058.6,205.0 C1057.4,210.3 1055.6,215.8 1053.6,222.0 C1051.6,228.2 1049.1,236.5 1046.8,242.4 C1044.5,248.3 1042.5,252.5 1040.0,257.6 C1037.5,262.7 1033.5,268.7 1031.5,272.9 C1029.5,277.1 1029.2,280.2 1028.1,283.0 C1027.0,285.8 1025.8,288.2 1024.7,289.8 C1023.6,291.4 1022.0,292.0 1021.4,292.4"/>
<path class="o" d="M1021.4,292.4 L1014.6,288.1 L999.3,278.0 L997.6,271.2 L994.2,268.6"/>
<path class="o" d="M850.0,77.5 C849.6,79.6 848.1,84.6 847.5,90.0 C846.9,95.4 846.7,102.5 846.3,110.0 C845.9,117.5 844.8,127.5 845.0,135.0 C845.2,142.5 845.4,149.2 847.5,155.0 C849.6,160.8 853.3,165.0 857.5,170.0 C861.7,175.0 867.9,179.6 872.5,185.0 C877.1,190.4 881.7,197.5 885.0,202.5 C888.3,207.5 890.4,210.4 892.5,215.0 C894.6,219.6 896.2,224.2 897.5,230.0 C898.8,235.8 899.6,244.7 900.0,250.0 C900.4,255.3 900.8,257.8 900.0,262.0 C899.2,266.2 897.1,266.6 895.0,275.0 C892.9,283.4 890.0,300.0 887.5,312.5 C885.0,325.0 882.1,339.6 880.0,350.0 C877.9,360.4 876.5,368.3 875.0,375.0 C873.5,381.7 871.9,387.5 871.3,390.0"/>
<path class="i" d="M853.0,80.0 C852.6,82.0 851.1,86.7 850.5,92.0 C849.9,97.3 849.8,104.8 849.5,112.0 C849.2,119.2 848.2,128.2 848.5,135.0 C848.8,141.8 849.1,147.7 851.0,153.0 C852.9,158.3 856.0,162.2 860.0,167.0 C864.0,171.8 870.3,176.5 875.0,182.0 C879.7,187.5 884.6,194.7 888.0,200.0 C891.4,205.3 893.4,209.0 895.5,214.0 C897.6,219.0 899.2,224.0 900.5,230.0 C901.8,236.0 902.6,244.7 903.0,250.0 C903.4,255.3 903.8,257.7 903.0,262.0 C902.2,266.3 900.1,267.7 898.0,276.0 C895.9,284.3 893.0,299.7 890.5,312.0 C888.0,324.3 885.1,339.5 883.0,350.0 C880.9,360.5 879.3,368.7 878.0,375.0 C876.7,381.3 875.5,385.8 875.0,388.0"/>
<path class="i" d="M852.0,76.0 C853.3,75.2 856.7,72.2 860.0,71.0 C863.3,69.8 867.7,69.0 872.0,68.5 C876.3,68.0 880.8,67.7 886.0,68.0 C891.2,68.3 896.7,68.8 903.0,70.5 C909.3,72.2 914.8,73.4 924.0,78.0 C933.2,82.6 946.5,91.0 958.0,98.0 C969.5,105.0 983.2,113.8 993.0,120.0 C1002.8,126.2 1009.8,130.2 1017.0,135.0 C1024.2,139.8 1030.8,144.5 1036.0,148.5 C1041.2,152.5 1044.8,155.2 1048.0,159.0 C1051.2,162.8 1053.4,166.2 1055.0,171.0 C1056.6,175.8 1057.7,181.7 1057.5,187.5 C1057.3,193.3 1055.4,200.2 1054.0,206.0 C1052.6,211.8 1051.0,216.2 1049.0,222.0 C1047.0,227.8 1044.3,235.3 1042.0,241.0 C1039.7,246.7 1037.5,251.0 1035.0,256.0 C1032.5,261.0 1029.0,266.7 1027.0,271.0 C1025.0,275.3 1024.2,279.3 1023.0,282.0 C1021.8,284.7 1020.5,286.2 1020.0,287.0"/>
<path class="i" d="M860.0,84.0 C863.3,83.0 872.8,78.7 880.0,78.0 C887.2,77.3 895.5,78.3 903.0,80.0 C910.5,81.7 915.8,83.5 925.0,88.0 C934.2,92.5 947.2,100.5 958.0,107.0 C968.8,113.5 981.0,121.3 990.0,127.0 C999.0,132.7 1008.3,138.7 1012.0,141.0"/>
<path class="i" d="M870,72.8 L890.5,69.2 M877.3,75.2 L901.3,84.8 L901.3,89.5 L890.5,89.5 M892.9,83.6 L921.6,80 L955.2,96.7 L928.8,101.5 L892.9,88 M884.5,86 L884.5,101.5 M890.5,89.5 L890.5,104 M900,86 L900,101.5 M927.6,101.5 L927.6,111.1 M861.8,105.1 L884.5,98 M866.6,111.1 L884.5,104 M940.8,102.7 L985,121.9 M938,106 L983,125.5 M936,109.5 L981,129 M955.2,96.7 L955.2,101 M870,72.8 L872,80 L877.3,75.2"/>
<path d="M904.0,91.0 L908.0,93.2 M907.2,92.9 L911.2,95.1 M910.4,94.8 L914.4,97.0 M913.6,96.7 L917.6,98.9 M916.8,98.6 L920.8,100.8 M920.0,100.5 L924.0,102.7" fill="none" stroke="#333" stroke-width="0.9"/>
<ellipse cx="859.4" cy="96.7" rx="3.2" ry="4" fill="none" stroke="#222" stroke-width="0.8"/>
<ellipse cx="859.4" cy="96.7" rx="1.8" ry="2.2" fill="none" stroke="#444" stroke-width="0.6"/>
<ellipse cx="858.2" cy="82.4" rx="2.8" ry="3.5" fill="none" stroke="#222" stroke-width="0.8"/>
<ellipse cx="858.2" cy="82.4" rx="1.6" ry="1.9" fill="none" stroke="#444" stroke-width="0.6"/>
<ellipse cx="902.5" cy="108.7" rx="3.4" ry="4.2" fill="none" stroke="#222" stroke-width="0.8"/>
<ellipse cx="902.5" cy="108.7" rx="1.9" ry="2.3" fill="none" stroke="#444" stroke-width="0.6"/>
<path class="o" d="M994.2,268.6 C993.9,269.6 992.7,271.0 992.5,274.6 C992.3,278.2 993.0,284.6 993.2,290.0 C993.4,295.4 994.3,302.6 993.9,307.3 C993.5,312.0 992.3,315.1 990.6,318.0 C988.9,320.9 986.4,323.7 983.9,324.6 C981.4,325.5 977.7,323.3 975.9,323.3 C974.1,323.3 974.2,321.3 973.3,324.6 C972.4,327.9 971.9,338.0 970.6,343.3 C969.3,348.6 966.6,352.6 965.3,356.6 C964.0,360.6 963.3,364.3 962.6,367.2 C961.9,370.1 961.5,372.8 961.3,373.9"/>
<path class="i" d="M988.0,276.0 C988.2,280.0 989.7,293.7 989.0,300.0 C988.3,306.3 986.3,311.2 984.0,314.0 C981.7,316.8 978.2,316.3 975.0,317.0 C971.8,317.7 967.8,317.0 965.0,318.0 C962.2,319.0 960.0,319.8 958.0,323.0 C956.0,326.2 954.3,332.5 953.0,337.0 C951.7,341.5 950.8,345.8 950.0,350.0 C949.2,354.2 949.2,357.0 948.0,362.0 C946.8,367.0 945.0,375.3 943.0,380.0 C941.0,384.7 937.5,386.7 936.0,390.0 C934.5,393.3 934.3,398.3 934.0,400.0"/>
<path class="i" d="M985.0,280.0 C985.2,283.3 986.7,294.8 986.0,300.0 C985.3,305.2 983.3,308.8 981.0,311.0 C978.7,313.2 975.2,312.5 972.0,313.0 C968.8,313.5 965.0,312.8 962.0,314.0 C959.0,315.2 956.2,316.5 954.0,320.0 C951.8,323.5 950.3,330.0 949.0,335.0 C947.7,340.0 946.8,345.5 946.0,350.0 C945.2,354.5 945.2,357.0 944.0,362.0 C942.8,367.0 941.0,375.3 939.0,380.0 C937.0,384.7 933.5,386.7 932.0,390.0 C930.5,393.3 930.3,398.3 930.0,400.0"/>
<path class="o" d="M871.3,390.0 L870.0,389.5 L850.0,399.0 L847.9,406.3 L849.0,416.9 L853.2,427.4 L861.6,437.9 L872.1,444.2 L875.3,445.3 L920.6,425.3 L931.1,425.3 L941.6,429.5 L956.4,440.0 L969.0,448.5 L975.3,454.8 L975.3,456.9 L952.2,471.6 L954.3,475.8 L964.8,475.8 L977.4,482.2 L985.9,486.4 L996.4,494.8 L1006.9,505.3 L1015.5,511.1 L1044.6,491.7 L1054.3,484.0"/>
<path class="o" d="M1054.3,484.0 C1054.6,483.4 1056.2,482.0 1056.2,480.1 C1056.2,478.2 1055.6,476.3 1054.3,472.4 C1053.0,468.5 1051.1,462.4 1048.5,456.9 C1045.9,451.4 1042.7,445.2 1038.8,439.4 C1034.9,433.6 1030.4,427.8 1025.2,422.0 C1020.0,416.2 1013.9,410.1 1007.8,404.6 C1001.7,399.1 995.8,394.3 988.4,389.1 C981.0,383.9 967.4,376.2 963.2,373.6"/>
<path class="i" d="M1050.0,478.0 C1049.8,476.7 1050.2,473.7 1049.0,470.0 C1047.8,466.3 1045.5,460.7 1043.0,456.0 C1040.5,451.3 1037.7,447.2 1034.0,442.0 C1030.3,436.8 1026.0,430.7 1021.0,425.0 C1016.0,419.3 1010.0,413.3 1004.0,408.0 C998.0,402.7 992.2,398.0 985.0,393.0 C977.8,388.0 965.0,380.5 961.0,378.0"/>
<path class="i" d="M1046.0,479.0 C1045.8,477.7 1046.2,474.7 1045.0,471.0 C1043.8,467.3 1041.5,461.7 1039.0,457.0 C1036.5,452.3 1033.7,448.0 1030.0,443.0 C1026.3,438.0 1022.0,432.3 1017.0,427.0 C1012.0,421.7 1006.0,416.0 1000.0,411.0 C994.0,406.0 987.8,401.8 981.0,397.0 C974.2,392.2 962.7,384.5 959.0,382.0"/>
<path class="i" d="M998.1,480.1 L1033,456.9 L1044.6,491.7 M998.1,480.1 L1015.5,511.1 M974.9,454.9 L1031,447.2 M982.6,468.5 L1036.9,454.9 M1033,456.9 L1031,447.2"/>
<path class="i" d="M963.2,439.4 L980.7,432.6 L993.3,445.2 L974.9,454.9 Z"/>
<circle cx="962" cy="412" r="20" fill="none" stroke="#333" stroke-width="0.6"/>
<path class="i" d="M946.0,380.0 C945.7,382.5 944.2,390.0 944.0,395.0 C943.8,400.0 944.0,405.0 945.0,410.0 C946.0,415.0 947.8,420.7 950.0,425.0 C952.2,429.3 955.0,432.8 958.0,436.0 C961.0,439.2 966.3,442.7 968.0,444.0"/>
<path class="i" d="M942.0,382.0 C941.7,384.7 940.2,393.0 940.0,398.0 C939.8,403.0 940.0,407.3 941.0,412.0 C942.0,416.7 943.8,421.8 946.0,426.0 C948.2,430.2 951.0,433.7 954.0,437.0 C957.0,440.3 962.3,444.5 964.0,446.0"/>
<circle cx="990.5" cy="489" r="3.5" fill="none" stroke="#222" stroke-width="0.8"/>
<circle cx="990.5" cy="489" r="1.8" fill="none" stroke="#444" stroke-width="0.6"/>
<path class="i" d="M952.2,471.6 L953.0,467.0 L975.0,457.0"/>
<path class="i" d="M870,389.5 L880,392 L925,375 M876,400 L920,381 L931,386 M875.3,445.3 L872,420 L920,398 L921,425 M857,403 L866,400 L872,420 M880,392 L878,404"/>
<circle cx="855.5" cy="417" r="3.5" fill="none" stroke="#222" stroke-width="0.8"/>
<circle cx="855.5" cy="417" r="1.8" fill="none" stroke="#444" stroke-width="0.6"/>
<path class="i" d="M878.0,427.0 C878.7,428.3 881.7,432.5 882.0,435.0 C882.3,437.5 880.3,440.8 880.0,442.0"/>
<path class="i" d="M905.0,289.0 C906.7,288.3 911.7,284.5 915.0,285.0 C918.3,285.5 922.8,288.7 925.0,292.0 C927.2,295.3 928.5,301.2 928.0,305.0 C927.5,308.8 923.0,313.3 922.0,315.0"/>
<path class="i" d="M892.0,300.0 C892.2,303.3 892.2,312.5 893.0,320.0 C893.8,327.5 895.8,338.3 897.0,345.0 C898.2,351.7 898.7,355.8 900.0,360.0 C901.3,364.2 904.2,368.3 905.0,370.0"/>
<path class="i" d="M915.0,330.0 C917.5,332.5 925.8,340.0 930.0,345.0 C934.2,350.0 937.5,355.5 940.0,360.0 C942.5,364.5 944.2,370.0 945.0,372.0"/>
<path class="i" d="M890.0,365.0 C893.3,364.2 903.3,361.3 910.0,360.0 C916.7,358.7 923.7,357.3 930.0,357.0 C936.3,356.7 945.0,357.8 948.0,358.0"/>
<path class="i" d="M900.0,330.0 C903.3,329.2 914.2,327.0 920.0,325.0 C925.8,323.0 929.7,319.2 935.0,318.0 C940.3,316.8 949.2,318.0 952.0,318.0"/>
<path class="i" d="M897,306 L925,296 L928,305 L900,316 Z M935,336 L951,330 M937,343 L951,337"/>
<circle cx="895" cy="316" r="3.2" fill="none" stroke="#222" stroke-width="0.8"/>
<circle cx="895" cy="316" r="1.6" fill="none" stroke="#444" stroke-width="0.6"/>
<circle cx="937" cy="339" r="3" fill="none" stroke="#222" stroke-width="0.8"/>
<circle cx="937" cy="339" r="1.5" fill="none" stroke="#444" stroke-width="0.6"/>
<circle cx="938" cy="366" r="2.8" fill="none" stroke="#222" stroke-width="0.8"/>
<circle cx="938" cy="366" r="1.4" fill="none" stroke="#444" stroke-width="0.6"/>
<path class="m" d="M918.0,116.0 C917.4,118.0 915.4,123.8 914.5,128.0 C913.6,132.2 914.2,136.1 912.4,141.3 C910.6,146.6 907.5,153.8 903.9,159.5 C900.3,165.2 893.4,171.8 890.6,175.2 C887.8,178.6 887.6,179.3 887.0,180.1"/>
<path class="m" d="M925.7,114.7 C925.5,116.4 924.9,120.6 924.5,125.0 C924.1,129.4 924.7,135.6 923.3,141.3 C921.9,147.1 919.2,154.2 916.0,159.5 C912.8,164.8 907.9,169.0 903.9,172.8 C899.9,176.6 893.8,180.9 891.8,182.5"/>
<path class="i" d="M921.9,115.3 C921.5,117.2 920.2,122.2 919.5,126.5 C918.8,130.8 919.4,135.8 917.8,141.3 C916.3,146.8 913.4,154.1 910.0,159.5 C906.5,164.9 900.7,170.4 897.2,174.0 C893.8,177.6 890.7,180.1 889.4,181.3"/>
<path class="i" d="M920.0,116.0 C919.4,118.0 917.4,123.8 916.5,128.0 C915.6,132.2 916.2,136.1 914.4,141.3 C912.6,146.6 909.5,153.8 905.9,159.5 C902.3,165.2 895.4,171.8 892.6,175.2 C889.8,178.6 889.6,179.3 889.0,180.1"/>
<path class="m" d="M934.2,113.5 C934.4,114.9 935.6,117.4 935.4,122.0 C935.2,126.6 934.4,135.1 933.0,141.3 C931.6,147.6 929.3,154.2 926.9,159.5 C924.5,164.8 921.4,168.2 918.4,172.8 C915.4,177.4 910.4,184.9 908.8,187.3"/>
<path class="m" d="M942.7,118.3 C943.1,119.1 945.1,119.4 945.1,123.2 C945.1,127.0 943.9,135.2 942.7,141.3 C941.5,147.4 940.2,153.4 937.8,159.5 C935.4,165.6 931.9,172.2 928.1,177.7 C924.3,183.1 917.0,189.8 914.8,192.2"/>
<path class="i" d="M936.4,113.5 C936.6,114.9 937.8,117.4 937.6,122.0 C937.4,126.6 936.6,135.1 935.2,141.3 C933.8,147.6 931.5,154.2 929.1,159.5 C926.7,164.8 923.6,168.2 920.6,172.8 C917.6,177.4 912.6,184.9 911.0,187.3"/>
<path class="i" d="M940.5,118.3 C940.9,119.1 942.9,119.4 942.9,123.2 C942.9,127.0 941.7,135.2 940.5,141.3 C939.3,147.4 938.0,153.4 935.6,159.5 C933.2,165.6 929.7,172.2 925.9,177.7 C922.1,183.1 914.8,189.8 912.6,192.2"/>
<path class="m" d="M969.3,141.3 C969.9,143.3 972.5,148.4 972.9,153.4 C973.3,158.4 972.7,165.5 971.7,171.6 C970.7,177.7 968.9,184.2 966.9,189.8 C964.9,195.4 960.8,202.5 959.6,205.0"/>
<path class="i" d="M972.3,141.8 C972.9,143.8 975.5,148.9 975.9,153.9 C976.3,158.9 975.7,166.0 974.7,172.1 C973.7,178.2 971.9,184.7 969.9,190.3 C967.9,195.9 963.8,203.0 962.6,205.5"/>
<path class="i" d="M975.3,142.3 C975.9,144.3 978.5,149.4 978.9,154.4 C979.3,159.4 978.7,166.5 977.7,172.6 C976.7,178.7 974.9,185.2 972.9,190.8 C970.9,196.4 966.8,203.5 965.6,206.0"/>
<path class="i" d="M918,116 L925.7,114.7 M934.2,113.5 Q940,113 942.7,118.3 M887,180.1 L891.8,182.5 M908.8,187.3 L914.8,192.2 M941.4,138.9 L972.9,155.9 M942.7,143.8 L970,158 M936.8,106.5 L980.4,120.7 M940,104 L983,118 M934,109 L977,123.5 M954.3,117.4 L954.3,137 M958,118.5 L958,138.5 M964,121 L964,141 M968.4,122.5 L968.4,143 M926,111 L946.6,102.2 M926,111 L926,116"/>
<path class="i" d="M1010.0,156.0 C1014.0,155.1 1027.8,150.7 1034.0,150.7 C1040.2,150.7 1043.5,152.9 1047.3,156.0 C1051.1,159.1 1054.5,164.2 1056.7,169.3 C1058.9,174.4 1060.5,179.9 1060.7,186.7 C1060.9,193.5 1058.5,206.1 1058.0,210.0"/>
<path class="m" d="M1011.3,166.7 C1014.2,166.2 1024.0,163.1 1028.7,164.0 C1033.4,164.9 1036.6,168.9 1039.3,172.0 C1042.0,175.1 1044.0,177.8 1044.7,182.7 C1045.4,187.6 1044.4,195.9 1043.3,201.3 C1042.2,206.7 1038.9,212.7 1038.0,215.0"/>
<path class="i" d="M1015.0,170.0 C1017.3,169.7 1025.5,167.2 1029.0,168.0 C1032.5,168.8 1034.2,172.3 1036.0,175.0 C1037.8,177.7 1039.5,179.8 1040.0,184.0 C1040.5,188.2 1040.0,195.3 1039.0,200.0 C1038.0,204.7 1034.8,210.0 1034.0,212.0"/>
<path class="i" d="M1008.0,160.0 C1012.2,159.1 1026.8,154.5 1033.0,154.5 C1039.2,154.5 1041.7,157.1 1045.0,160.0 C1048.3,162.9 1051.2,167.5 1053.0,172.0 C1054.8,176.5 1055.8,181.3 1056.0,187.0 C1056.2,192.7 1054.3,202.8 1054.0,206.0"/>
<path class="i" d="M854.7,151.3 L897.3,134 M861.3,170 L906.7,151.3"/>
<ellipse cx="902" cy="142.5" rx="4" ry="9.5" transform="rotate(-20 902 142.5)" fill="none" stroke="#222" stroke-width="0.8"/>
<ellipse cx="865.3" cy="130" rx="5.5" ry="9.5" transform="rotate(25 865.3 130)" fill="none" stroke="#222" stroke-width="0.8"/>
<path class="i" d="M856,104.7 L868,100 L868,146 L856,150 Z M858,118 L866,115"/>
<path class="i" d="M960,118 L1010,142 M985,126 L1020,145 M1000,140 L1030,147"/>
<path class="i" d="M975,105 L976,118 M990,115 L990,130"/>
<path class="m" d="M948.7,172 L960,176 M949,175.5 L961,180 M949.5,179 L961.5,183.5 M950,182.5 L962,186.7"/>
<path class="i" d="M902.5,195 L922.7,205 M922.7,214 L936,203.3 L960,220.7 L986.7,208.7 M922.7,214 L924,275.3 M925.5,216 L927,275 M924,275.3 L966.7,295.3 M936,272.7 L962.7,283.3 M960,220.7 L961.3,236.7 M966.7,248.7 L968,294 M973.3,246 L973.3,296.7 M941.3,236.7 L949.3,236.7 L950.7,270 M943,237 L944,268 M936,203.3 L936,212 M986.7,208.7 L995,215 L995,262 M1000,225 L1000,262 M975,230 L990,236 M978,280 L990,285 M910.7,272.7 C912,270 917,271 918.7,276 L916,281"/>
<path d="M951,247 L962,241 C967,240 969,247 967,251 L957,258" fill="#fff" stroke="#222" stroke-width="0.8"/>
<ellipse cx="954.7" cy="252.7" rx="5" ry="6.5" transform="rotate(-20 954.7 252.7)" fill="#fff" stroke="#222" stroke-width="0.8"/>
<ellipse cx="954.7" cy="252.7" rx="2.6" ry="3.4" transform="rotate(-20 954.7 252.7)" fill="none" stroke="#333" stroke-width="0.7"/>
<path d="M894.9,214.0 L897.4,215.8 M896.7,218.6 L899.2,220.4 M898.2,223.2 L900.7,225.0 M899.8,227.8 L902.3,229.6 M900.8,232.4 L903.3,234.2 M901.4,237.0 L903.9,238.8 M902.0,241.6 L904.5,243.4 M902.5,246.2 L905.0,248.0 M903.0,250.8 L905.5,252.6 M903.0,255.4 L905.5,257.2 M903.0,260.0 L905.5,261.8 M902.0,264.6 L904.5,266.4 M900.2,269.2 L902.7,271.0 M898.5,273.8 L901.0,275.6 M897.3,278.4 L899.8,280.2 M896.4,283.0 L898.9,284.8 M895.5,287.6 L898.0,289.4 M894.6,292.2 L897.1,294.0 M893.6,296.8 L896.1,298.6 M892.7,301.4 L895.2,303.2 M891.8,306.0 L894.3,307.8 M890.9,310.6 L893.4,312.4 M890.0,315.2 L892.5,317.0 M889.0,319.8 L891.5,321.6 M888.1,324.4 L890.6,326.2 M887.2,329.0 L889.7,330.8" fill="none" stroke="#555" stroke-width="0.6"/>
<path class="i" d="M940.7,138.7 L955,146 M935,145 L950,153 M990,150 L1005,160 M1005,185 L1030,180 M1002,195 L1025,200"/>
<circle cx="857.5" cy="97.5" r="3.6" fill="none" stroke="#222" stroke-width="0.8"/>
<circle cx="857.5" cy="97.5" r="1.8" fill="none" stroke="#444" stroke-width="0.6"/>
<circle cx="902.5" cy="108.8" r="3.6" fill="none" stroke="#222" stroke-width="0.8"/>
<circle cx="902.5" cy="108.8" r="1.8" fill="none" stroke="#444" stroke-width="0.6"/>
<circle cx="855.3" cy="164.7" r="4" fill="none" stroke="#222" stroke-width="0.8"/>
<circle cx="855.3" cy="164.7" r="2.0" fill="none" stroke="#444" stroke-width="0.6"/>
<circle cx="995.3" cy="162.7" r="4.5" fill="none" stroke="#222" stroke-width="0.8"/>
<circle cx="995.3" cy="162.7" r="2.2" fill="none" stroke="#444" stroke-width="0.6"/>
<circle cx="902.5" cy="225" r="3" fill="none" stroke="#222" stroke-width="0.8"/>
<circle cx="902.5" cy="225" r="1.5" fill="none" stroke="#444" stroke-width="0.6"/>
<circle cx="995" cy="260" r="3.5" fill="none" stroke="#222" stroke-width="0.8"/>
<circle cx="995" cy="260" r="1.8" fill="none" stroke="#444" stroke-width="0.6"/>
<!-- belt clip 100 -->
<path class="o" d="M1019.3,352.0 C1018.3,351.0 1017.1,349.1 1018.5,347.8 C1019.9,346.5 1026.0,336.2 1032.9,339.3 C1039.9,342.4 1081.8,373.8 1088.0,378.3 C1094.2,382.8 1093.7,382.6 1094.7,384.2 C1095.7,385.8 1097.4,391.3 1098.1,394.4 C1098.8,397.4 1100.9,411.3 1101.5,414.7 C1102.1,418.1 1104.1,424.9 1104.1,428.3 C1104.1,431.7 1102.4,445.7 1101.5,448.6 C1100.6,451.5 1096.6,456.6 1094.7,457.1 C1092.8,457.6 1084.7,454.7 1082.9,453.7 C1081.1,452.7 1077.5,451.0 1076.9,446.9 C1076.3,442.8 1077.2,417.2 1076.9,413.1 C1076.7,409.0 1075.5,407.5 1074.4,406.3 C1073.3,405.1 1067.8,402.6 1065.9,401.2 C1064.0,399.8 1057.0,392.0 1055.8,392.0 C1054.6,392.0 1055.3,398.6 1054.1,401.2 C1052.9,403.8 1045.8,416.2 1043.9,418.1 C1042.0,420.0 1037.3,420.3 1035.4,419.8 C1033.5,419.3 1026.4,414.3 1025.3,413.1 C1024.2,411.9 1024.2,412.1 1024.4,408.0 C1024.6,403.9 1026.6,377.4 1027.0,372.4 C1027.4,367.4 1029.4,360.0 1028.6,358.0 C1027.8,356.0 1020.3,353.0 1019.3,352.0 Z"/>
<path class="i" d="M1019.3,352 L1028.6,358 L1031,355 L1088,389 L1088,378.3 M1028.6,358 L1029,368 L1074.4,396 M1088,389 L1087,410 L1076.9,413.1 M1089.7,384.2 L1089.7,448.6"/>
<path class="i" d="M1039.7,384.2 C1038.6,389.0 1036.7,406.0 1037.1,411.4 C1037.5,416.8 1040.2,417.2 1042.2,416.4 C1044.2,415.5 1047.0,410.8 1049.0,406.3 C1051.0,401.8 1054.9,393.3 1054.1,389.3 C1053.2,385.3 1046.3,383.4 1043.9,382.5 C1041.5,381.6 1040.8,379.4 1039.7,384.2 Z"/>
<path class="i" d="M1092.0,386.0 C1092.7,388.0 1094.8,393.0 1096.0,398.0 C1097.2,403.0 1098.2,410.7 1099.0,416.0 C1099.8,421.3 1101.0,425.0 1101.0,430.0 C1101.0,435.0 1100.3,442.0 1099.0,446.0 C1097.7,450.0 1094.8,453.0 1093.0,454.0 C1091.2,455.0 1088.8,452.3 1088.0,452.0"/>
<path class="i" d="M1035,362 L1062,377 L1061,382 L1036,367 Z M1063,383 L1075,390 L1074,394"/>
<!-- screw 105 -->
<ellipse cx="1100.7" cy="351.2" rx="8" ry="11" transform="rotate(-20 1100.7 351.2)" fill="#fff" stroke="#111" stroke-width="1.1"/>
<path d="M1087,350.5 L1100,345 L1104,357 L1089,364.5 Z" fill="#fff" stroke="none"/>
<path d="M1088.5,350.0 L1090.3,362.0 M1090.1,349.3 L1091.9,361.3 M1091.8,348.6 L1093.6,360.6 M1093.4,347.9 L1095.2,359.9 M1095.1,347.1 L1096.9,359.1 M1096.7,346.4 L1098.5,358.4 M1098.4,345.7 L1100.2,357.7 M1100.0,345.0 L1101.8,357.0" fill="none" stroke="#555" stroke-width="0.8"/>
<path class="m" d="M1087,350.5 L1100,345 M1089,364.5 L1103,358"/>
<ellipse cx="1085" cy="358" rx="3.2" ry="6.6" transform="rotate(-20 1085 358)" fill="#fff" stroke="#111" stroke-width="0.9"/>
<ellipse cx="1101.5" cy="351" rx="4" ry="7" transform="rotate(-20 1101.5 351)" fill="none" stroke="#333" stroke-width="0.7"/>
<!-- nut 103 right -->
<polygon points="918.0,449.0 921.2,443.0 928.4,440.5 932.6,441.7 936.9,446.0 938.1,451.0 936.0,454.9 928.8,460.0 926.7,460.0 921.2,457.4 918.6,452.3" fill="#fff" stroke="#111" stroke-width="1" stroke-linejoin="round"/>
<ellipse cx="923.7" cy="451.9" rx="4.9" ry="7.2" transform="rotate(-15 923.7 451.9)" fill="none" stroke="#222" stroke-width="0.8"/>
<circle cx="923.9" cy="452.0" r="3.2" fill="#aaa" stroke="#222" stroke-width="0.8"/>
<path d="M923.3,444.3 927.6,446.4 930.9,445.1 928.4,440.5 M927.6,446.4 928.8,454.9 928.0,459.5 M934.5,454.2 930.1,456.0 M930.9,445.1 935.1,448.0" fill="none" stroke="#222" stroke-width="0.8"/>
<!-- battery 91 -->
<path class="o" d="M608.8,630.0 C609.5,630.3 603.8,638.2 615.0,632.5 C626.2,626.8 693.5,586.8 705.0,581.3 C716.5,575.8 710.2,584.7 713.8,585.6 C717.4,586.5 730.9,587.1 736.0,588.8 C741.1,590.5 752.7,597.4 757.5,600.0 C762.3,602.6 773.0,608.5 777.5,611.3 C782.0,614.1 792.5,621.2 796.3,623.8 C800.1,626.4 807.4,631.8 810.0,633.8 C812.6,635.8 817.5,639.7 818.8,641.3 C820.1,642.9 820.9,645.0 821.3,647.5 C821.7,650.0 821.8,657.8 821.9,662.5 C822.0,667.2 822.4,683.7 822.5,687.5 C822.6,691.3 823.2,693.5 823.1,695.0 C823.0,696.5 822.2,697.7 821.3,700.0 C820.4,702.3 816.3,712.8 815.0,715.0 C813.7,717.2 822.0,711.9 810.0,718.8 C798.0,725.7 724.6,767.0 712.5,773.8 C700.4,780.6 707.5,777.1 706.3,777.5 C705.1,777.9 702.9,777.5 702.5,777.5"/>
<path class="o" d="M608.8,630.0 C608.1,630.9 603.8,635.2 602.5,637.5 C601.2,639.8 598.4,645.6 597.5,650.0 C596.6,654.4 595.4,668.3 594.9,675.0 C594.4,681.7 593.5,703.1 593.6,707.5 C593.7,711.9 594.3,710.9 595.5,712.5 C596.7,714.1 602.3,719.3 604.3,721.3 C606.3,723.3 611.4,728.7 613.0,730.0 C614.6,731.3 616.5,731.6 618.0,732.5 C619.5,733.4 624.0,736.6 625.5,737.5 C627.0,738.4 629.0,739.1 630.5,740.0 C632.0,740.9 636.2,743.8 638.0,745.0 C639.8,746.2 643.5,748.6 645.5,750.0 C647.5,751.4 652.7,755.6 655.0,757.0 C657.3,758.4 662.1,760.8 665.0,762.0 C667.9,763.2 676.9,766.0 680.0,767.0 C683.1,768.0 689.4,769.8 692.0,771.0 C694.6,772.2 701.3,776.7 702.5,777.5"/>
<path class="i" d="M604.3,721.3 L606,716 M613,730 L614.3,722 M625.5,737.5 L627,729 M638,745 L640,736 M650,753 L652,744"/>
<path class="i" d="M594.9,673.8 C595.8,674.5 598.4,676.3 600.0,678.0 C601.6,679.7 603.6,682.8 604.3,683.8"/>
<path class="m" d="M603.0,696.3 C609.2,699.2 627.1,707.1 640.0,714.0 C652.9,720.9 673.8,733.6 680.5,737.5"/>
<path class="i" d="M603.5,699.5 C609.6,702.5 627.2,710.6 640.0,717.5 C652.8,724.4 673.8,737.1 680.5,741.0"/>
<path class="i" d="M596.0,684.0 C597.2,685.0 601.8,688.0 603.0,690.0 C604.2,692.0 603.0,695.2 603.0,696.3"/>
<path class="i" d="M606.8,702.0 L607.8,724.0"/>
<path class="i" d="M614.3,705.9 L615.3,730.4"/>
<path class="i" d="M618.0,707.8 L619.0,732.4"/>
<path class="i" d="M625.5,711.7 L626.5,737.2"/>
<path class="i" d="M629.3,713.7 L630.3,739.1"/>
<path class="i" d="M636.8,717.6 L637.8,744.1"/>
<path class="i" d="M640.5,719.5 L641.5,746.5"/>
<path class="i" d="M649.3,724.1 L650.3,752.7"/>
<path class="i" d="M653.0,726.0 L654.0,755.5"/>
<path class="i" d="M663.0,731.2 L664.0,760.7"/>
<path class="i" d="M668.0,733.8 L669.0,762.5"/>
<path class="i" d="M675.5,737.7 L676.5,765.0"/>
<path class="i" d="M679.9,740.0 L680.9,766.5"/>
<path class="m" d="M621.8,656.3 C623.5,655.8 642.1,666.4 645.0,668.0 C647.9,669.6 664.4,678.0 665.5,680.0 C666.6,682.0 661.5,695.8 661.0,698.0 C660.5,700.2 659.4,712.0 658.0,712.5 C656.6,713.0 642.4,706.0 640.0,705.0 C637.6,704.0 623.7,699.4 622.4,697.5 C621.1,695.6 620.0,678.7 620.0,676.0 C620.0,673.3 620.1,656.8 621.8,656.3 Z"/>
<path class="i" d="M625.5,666.3 L659.3,685.0 L656.1,708.8 L625.5,695.0 Z"/>
<path d="M626.5,669.9 L657.5,688.5 M626.5,673.8 L657.5,691.5 M626.5,677.6 L657.5,694.5 M626.5,681.5 L657.5,697.5 M626.5,685.4 L657.5,700.5 M626.5,689.2 L657.5,703.5 M626.5,693.1 L657.5,706.5" fill="none" stroke="#333" stroke-width="1.1"/>
<path class="i" d="M624.3,697.5 C624.9,699.1 626.5,704.1 628.0,707.0 C629.5,709.9 629.9,712.8 633.0,715.0 C636.1,717.2 642.7,720.0 646.8,720.0 C650.9,720.0 655.6,715.8 657.4,715.0"/>
<path class="i" d="M617.0,657.0 C617.0,660.8 616.7,672.8 617.0,680.0 C617.3,687.2 618.7,696.7 619.0,700.0"/>
<path class="i" d="M680.5,678.8 C678.8,680.9 672.8,686.7 670.5,691.3 C668.2,695.9 667.6,701.9 666.8,706.3 C666.0,710.7 665.8,712.7 665.5,717.5 C665.2,722.3 665.1,732.1 665.0,735.0"/>
<path class="i" d="M684.0,677.0 C682.3,679.2 676.2,685.3 674.0,690.0 C671.8,694.7 671.3,700.3 670.5,705.0 C669.7,709.7 669.2,715.8 669.0,718.0"/>
<path class="i" d="M691.8,685 L692.5,730 L694.3,753 M692.5,731.3 C700,731 706,729 708.8,727.5 C712,724 713,719 715,717.5 C717,715 719,714 721.3,713.8 L806.3,665 L810,667 L812,664 L821,660"/>
<path class="i" d="M706.3,731 L706.3,765 L713.8,773.8 M694.3,753 L702.5,762 L706.3,765"/>
<path class="i" d="M702.5,695 L820,647.5 M705,698.8 L820,651 M737.5,700 L806.3,665"/>
<path class="m" d="M726.3,740.0 L798.1,699.4 L798.8,721.3 L726.9,761.9 Z"/>
<ellipse cx="732.5" cy="698.8" rx="3.6" ry="4.5" fill="none" stroke="#222" stroke-width="0.8"/>
<ellipse cx="732.5" cy="698.8" rx="1.8" ry="2.2" fill="none" stroke="#333" stroke-width="0.7"/>
<ellipse cx="705.6" cy="748.8" rx="3.6" ry="4.5" fill="none" stroke="#222" stroke-width="0.8"/>
<ellipse cx="705.6" cy="748.8" rx="1.8" ry="2.2" fill="none" stroke="#333" stroke-width="0.7"/>
<ellipse cx="790" cy="665" rx="3.2" ry="4" fill="none" stroke="#222" stroke-width="0.8"/>
<ellipse cx="790" cy="665" rx="1.6" ry="2.0" fill="none" stroke="#333" stroke-width="0.7"/>
<ellipse cx="767.5" cy="632.5" rx="2.8" ry="3.5" fill="none" stroke="#222" stroke-width="0.8"/>
<ellipse cx="767.5" cy="632.5" rx="1.4" ry="1.8" fill="none" stroke="#333" stroke-width="0.7"/>
<ellipse cx="696.2" cy="590.7" rx="2.8" ry="3.5" fill="none" stroke="#222" stroke-width="0.8"/>
<ellipse cx="696.2" cy="590.7" rx="1.4" ry="1.8" fill="none" stroke="#333" stroke-width="0.7"/>
<ellipse cx="817.5" cy="684" rx="3.5" ry="7" transform="rotate(15 817.5 684)" fill="none" stroke="#222" stroke-width="0.8"/>
<path class="i" d="M697.5,680.0 L787.5,628.8 L797.5,633.8 L705.0,686.0 Z"/>
<path class="i" d="M700.0,684.0 L706.0,692.0 L796.0,640.0 L797.5,633.8"/>
<rect x="704.5" y="675.0" width="9" height="5" rx="1.5" transform="rotate(-30 709.0 677.5)" fill="none" stroke="#222" stroke-width="0.8"/>
<path class="i" d="M705.0,681.5 L713.0,677.0"/>
<rect x="714.8" y="669.1" width="9" height="5" rx="1.5" transform="rotate(-30 719.3 671.6)" fill="none" stroke="#222" stroke-width="0.8"/>
<path class="i" d="M715.3,675.6 L723.3,671.1"/>
<rect x="725.1" y="663.1" width="9" height="5" rx="1.5" transform="rotate(-30 729.6 665.6)" fill="none" stroke="#222" stroke-width="0.8"/>
<path class="i" d="M725.6,669.6 L733.6,665.1"/>
<rect x="735.4" y="657.2" width="9" height="5" rx="1.5" transform="rotate(-30 739.9 659.7)" fill="none" stroke="#222" stroke-width="0.8"/>
<path class="i" d="M735.9,663.7 L743.9,659.2"/>
<rect x="745.6" y="651.3" width="9" height="5" rx="1.5" transform="rotate(-30 750.1 653.8)" fill="none" stroke="#222" stroke-width="0.8"/>
<path class="i" d="M746.1,657.8 L754.1,653.3"/>
<rect x="755.9" y="645.4" width="9" height="5" rx="1.5" transform="rotate(-30 760.4 647.9)" fill="none" stroke="#222" stroke-width="0.8"/>
<path class="i" d="M756.4,651.9 L764.4,647.4"/>
<rect x="766.2" y="639.4" width="9" height="5" rx="1.5" transform="rotate(-30 770.7 641.9)" fill="none" stroke="#222" stroke-width="0.8"/>
<path class="i" d="M766.7,645.9 L774.7,641.4"/>
<rect x="776.5" y="633.5" width="9" height="5" rx="1.5" transform="rotate(-30 781.0 636.0)" fill="none" stroke="#222" stroke-width="0.8"/>
<path class="i" d="M777.0,640.0 L785.0,635.5"/>
<path class="i" d="M617.5,635.6 C619.1,634.1 649.4,617.1 653.0,615.0 C656.6,612.9 687.3,594.9 690.0,594.4 C692.7,593.9 705.6,603.6 706.3,604.4 C707.0,605.2 706.8,609.2 704.0,611.0 C701.2,612.8 653.8,639.1 650.0,641.0 C646.2,642.9 629.0,648.6 627.5,648.8 C626.0,648.9 620.5,644.7 620.0,644.0 C619.5,643.3 615.9,637.1 617.5,635.6 Z"/>
<path class="i" d="M632.5,651.9 C633.2,651.3 646.4,643.3 648.8,643.8 C651.2,644.3 679.2,660.0 680.0,661.3 C680.8,662.6 666.0,669.5 665.0,670.0 C664.0,670.5 661.5,671.7 660.0,671.0 C658.5,670.3 635.4,657.0 634.0,656.0 C632.6,655.0 631.8,652.5 632.5,651.9 Z"/>
<path class="m" d="M653.8,641.3 L661.3,630.0 L677.5,627.5 L707.5,645.0 L683.8,658.1 L682.5,650.0 L653.8,641.3"/>
<path class="i" d="M663.8,629.4 L682.5,650.0 L687.5,646.3 L702.5,646.3"/>
<path class="i" d="M687.5,646.3 L683.8,658.1"/>
<path d="M676.0,633.5 L679.0,631.5 M678.5,634.9 L681.5,632.9 M681.0,636.3 L684.0,634.3 M683.5,637.7 L686.5,635.7 M686.0,639.1 L689.0,637.1 M688.5,640.6 L691.5,638.6 M691.0,642.0 L694.0,640.0 M693.5,643.4 L696.5,641.4 M696.0,644.8 L699.0,642.8" fill="none" stroke="#333" stroke-width="0.9"/>
<path class="i" d="M677.5,632.5 L697.5,643.8"/>
<path class="i" d="M681.3,622.5 C682.2,621.7 700.2,610.9 702.5,611.3 C704.8,611.7 726.9,628.5 727.5,630.0 C728.1,631.5 715.8,640.7 715.0,641.3 C714.2,641.9 713.5,642.7 712.0,642.0 C710.5,641.3 685.5,628.0 684.0,627.0 C682.5,626.0 680.4,623.3 681.3,622.5 Z"/>
<path class="m" d="M707.5,602.5 L725.6,594.4 L726.3,611.3 L711.3,617.5 L707.5,613.8 Z"/>
<path class="i" d="M711.3,605.0 L726.3,598.0 L726.3,611.3"/>
<path class="i" d="M711.3,605.0 L711.3,617.5"/>
<path class="m" d="M721.3,622.5 L733.8,617.5 L735.0,628.8 L726.3,630.0 L722.5,628.8 Z"/>
<path class="i" d="M722.5,622.5 L722.5,628.8"/>
<path class="i" d="M705.0,607.5 L742.5,600.0 L755.0,610.0 L743.8,617.5 L731.3,625.0"/>
<path class="i" d="M713.8,585.6 L716.0,592.0 L725.6,594.4"/>
<path class="i" d="M736.0,588.8 L742.5,600.0"/>
<path class="i" d="M750.0,622.5 L757.5,616.3 L772.5,621.3 L797.5,633.8"/>
<path class="i" d="M747.5,628.8 C749.6,628.2 762.9,635.3 762.5,636.3 C762.1,637.3 742.6,647.6 740.0,649.0 C737.4,650.4 712.0,663.5 710.0,664.0 C708.0,664.5 699.5,660.8 700.0,660.0 C700.5,659.2 717.6,649.6 720.0,648.0 C722.4,646.4 745.4,629.4 747.5,628.8 Z"/>
<path class="i" d="M757.0,614.0 L765.0,620.0 L768.0,618.0 L760.0,612.0"/>
<path class="i" d="M615.0,632.5 L618.0,640.0 L627.5,648.8"/>
<!-- charger 653 -->
<path class="o" d="M1100.0,695.0 C1100.2,693.3 1101.3,690.8 1101.3,685.0 C1101.3,679.2 1100.4,668.3 1100.0,660.0 C1099.6,651.7 1099.6,640.8 1098.8,635.0 C1098.0,629.2 1097.3,627.9 1095.0,625.0 C1092.7,622.1 1088.3,619.4 1085.0,617.5 C1081.7,615.6 1076.7,614.4 1075.0,613.8"/>
<path class="o" d="M1010.0,577.5 L1075.0,613.8"/>
<path d="M1010.7,579.4 L1012.5,582.4 L1015.0,581.4 M1015.7,582.2 L1017.5,585.2 L1020.0,584.2 M1020.7,585.0 L1022.5,588.0 L1025.0,587.0 M1025.7,587.8 L1027.5,590.8 L1030.0,589.8 M1030.7,590.6 L1032.5,593.6 L1035.0,592.6 M1035.7,593.4 L1037.5,596.4 L1040.0,595.4 M1040.7,596.1 L1042.5,599.1 L1045.0,598.1 M1045.7,598.9 L1047.5,601.9 L1050.0,600.9 M1050.7,601.7 L1052.5,604.7 L1055.0,603.7 M1055.7,604.5 L1057.5,607.5 L1060.0,606.5 M1060.7,607.3 L1062.5,610.3 L1065.0,609.3 M1065.7,610.1 L1067.5,613.1 L1070.0,612.1 M1070.7,612.9 L1072.5,615.9 L1075.0,614.9" fill="none" stroke="#444" stroke-width="1"/>
<path class="i" d="M1012.0,582.0 L1075.0,617.0"/>
<path class="o" d="M970.0,576.3 C970.8,575.5 971.7,573.2 975.0,571.3 C978.3,569.4 985.8,565.6 990.0,565.0 C994.2,564.4 996.7,565.4 1000.0,567.5 C1003.3,569.6 1008.3,575.8 1010.0,577.5"/>
<path class="o" d="M970.0,576.3 L971.3,587.5 L965.0,590.0"/>
<path class="o" d="M965.0,590.0 L895.0,635.0"/>
<path d="M963.8,590.5 C962.8,588.0 959.8,589.0 959.8,592.0 M957.5,594.6 C956.5,592.1 953.5,593.1 953.5,596.1 M951.1,598.7 C950.1,596.2 947.1,597.2 947.1,600.2 M944.7,602.8 C943.7,600.3 940.7,601.3 940.7,604.3 M938.4,606.9 C937.4,604.4 934.4,605.4 934.4,608.4 M932.0,611.0 C931.0,608.5 928.0,609.5 928.0,612.5 M925.6,615.1 C924.6,612.6 921.6,613.6 921.6,616.6 M919.3,619.2 C918.3,616.7 915.3,617.7 915.3,620.7 M912.9,623.3 C911.9,620.8 908.9,621.8 908.9,624.8 M906.5,627.4 C905.5,624.9 902.5,625.9 902.5,628.9 M900.2,631.5 C899.2,629.0 896.2,630.0 896.2,633.0" fill="none" stroke="#333" stroke-width="0.9"/>
<path class="o" d="M895.0,635.0 C894.0,635.2 888.2,635.0 885.0,637.5 C881.8,640.0 866.5,655.2 862.5,660.0 C858.5,664.8 847.2,681.5 845.0,685.0 C842.8,688.5 840.9,691.7 840.3,694.5 C839.7,697.3 838.7,709.5 839.0,713.0 C839.3,716.5 842.2,726.3 843.0,729.0 C843.8,731.7 843.7,736.7 846.9,739.6 C850.1,742.5 868.8,754.1 874.8,758.1 C880.8,762.1 902.6,776.8 906.6,779.3 C910.6,781.8 910.6,783.0 914.6,783.3 C918.6,783.6 938.4,784.2 946.4,782.0 C954.4,779.8 982.7,767.0 994.1,760.8 C1005.5,754.6 1049.4,726.6 1060.0,720.0 C1070.6,713.4 1096.2,697.0 1100.2,694.5"/>
<path class="m" d="M1102.0,684.0 C1104.3,685.3 1111.5,688.3 1116.1,691.8 C1120.7,695.3 1125.8,700.2 1129.4,705.1 C1133.1,710.0 1136.6,718.4 1138.0,721.0"/>
<path class="m" d="M1102.0,688.5 C1103.9,689.6 1109.6,691.8 1113.5,695.0 C1117.4,698.2 1122.2,702.8 1125.5,707.5 C1128.8,712.2 1132.2,720.8 1133.5,723.5"/>
<path class="m" d="M1133.5,723.5 L1138,721"/>
<path class="i" d="M848.3,721.0 L909.3,750.2"/>
<path class="i" d="M853.6,699.8 L906.6,726.3"/>
<path class="i" d="M906.6,745.0 L906.6,750.2 L907.9,779.3"/>
<path class="i" d="M909.3,750.0 L909.3,752.0 L911.0,780.0"/>
<path class="i" d="M961.4,675.7 L1055.0,635.0"/>
<path class="i" d="M909.3,750.2 L914.6,752.8 L955.0,750.0 L994.1,735.0"/>
<path class="m" d="M867.0,686.0 C867.2,685.3 868.1,682.0 872.0,683.5 C875.9,685.0 921.6,706.9 925.0,709.0 C928.4,711.1 923.9,715.0 923.5,715.5 C923.1,716.0 922.7,717.4 919.0,716.0 C915.3,714.6 872.0,696.0 868.5,694.0 C865.0,692.0 866.8,686.7 867.0,686.0 Z"/>
<path d="M870.1,684.3 L873.1,689.8 M873.3,685.8 L876.3,691.3 M876.5,687.4 L879.5,692.9 M879.7,689.0 L882.7,694.5 M882.8,690.5 L885.8,696.0 M886.0,692.1 L889.0,697.6 M889.2,693.7 L892.2,699.2 M892.4,695.2 L895.4,700.7 M895.6,696.8 L898.6,702.3 M898.8,698.3 L901.8,703.8 M902.0,699.9 L905.0,705.4 M905.2,701.5 L908.2,707.0 M908.3,703.0 L911.3,708.5 M911.5,704.6 L914.5,710.1 M914.7,706.2 L917.7,711.7 M917.9,707.7 L920.9,713.2" fill="none" stroke="#333" stroke-width="1"/>
<path class="i" d="M869.0,689.0 L921.0,714.0"/>
<path class="i" d="M870.6,680.6 L902,643 Q903.5,641 906,640 L926.3,629.7 L980.8,660 L961.4,675.7"/>
<path class="i" d="M874,682.5 L905,646 Q906.5,644 909,643.5"/>
<path class="i" d="M909.3,651.5 L926.3,631.5 M909.3,651.5 L950.5,675.7 L980.8,660 M950.5,675.7 L959,675.7"/>
<path class="i" d="M901,664.5 L933,677 C935,678 934,681 932,680.5 L900,668 C898,667 899,663.5 901,664.5 Z"/>
<path class="i" d="M932.4,676 L938,674.5 L940.8,681 L935,683 Z M934,678 L939,677"/>
<path d="M886.3,682.0 L886.8,677.5 C887.3,675.0 890.8,675.0 891.3,678.0 L891.8,682.5" fill="none" stroke="#222" stroke-width="0.8"/>
<path d="M892.3,685.5 L892.8,681 C893.3,678.5 896.8,678.5 897.3,681.5 L897.8,686" fill="none" stroke="#222" stroke-width="0.8"/>
<path d="M899.0,689.5 L899.5,685 C900.0,682.5 903.5,682.5 904.0,685.5 L904.5,690" fill="none" stroke="#222" stroke-width="0.8"/>
<path d="M906.0,693.5 L906.5,689 C907.0,686.5 910.5,686.5 911.0,689.5 L911.5,694" fill="none" stroke="#222" stroke-width="0.8"/>
<path class="i" d="M919,700 L921,694 L926,696 L925,703"/>
<path class="i" d="M961.4,675.7 L927.5,712 M958,674.5 L924,710"/>
<path class="i" d="M947.5,638.8 L949,637 L970,645 L970,648 L968,649 L947.5,641 Z"/>
<path class="i" d="M850,690 L870.6,680.6 M846,710 L853.6,699.8"/>
<path class="m" d="M935.8,731.6 C937.2,729.6 963.3,696.5 964.9,694.5 C966.5,692.5 966.7,692.4 968.0,692.5 C969.3,692.6 990.4,696.7 991.5,697.1 C992.6,697.5 991.6,698.1 990.0,700.0 C988.4,701.9 961.3,732.5 959.6,734.3 C957.9,736.1 957.1,735.5 956.0,735.5 C954.9,735.5 938.0,734.2 937.0,734.0 C936.0,733.8 934.4,733.6 935.8,731.6 Z"/>
<path class="i" d="M939.0,728.0 L965.0,697.0 L987.0,700.0"/>
<circle cx="931.8" cy="740.9" r="4.8" fill="none" stroke="#222" stroke-width="0.8"/>
<circle cx="931.8" cy="740.9" r="3" fill="none" stroke="#444" stroke-width="0.6"/>
<circle cx="946.4" cy="743.5" r="4.8" fill="none" stroke="#222" stroke-width="0.8"/>
<circle cx="946.4" cy="743.5" r="3" fill="none" stroke="#444" stroke-width="0.6"/>
<path d="M974.5,688.0 L997.7,693.2 Q1000.7,693.7 1001.0,696.7 L1005.0,744.6" fill="none" stroke="#333" stroke-width="0.75"/>
<path d="M974.9,689.3 L997.3,694.5 Q999.4,695.0 999.7,698.0 L1003.7,744.6" fill="none" stroke="#333" stroke-width="0.5"/>
<path d="M981.6,684.5 L1004.6,689.8 Q1007.6,690.3 1007.9,693.3 L1011.7,740.9" fill="none" stroke="#333" stroke-width="0.75"/>
<path d="M982.0,685.8 L1004.2,691.1 Q1006.3,691.6 1006.6,694.6 L1010.4,740.9" fill="none" stroke="#333" stroke-width="0.5"/>
<path d="M988.8,681.1 L1011.4,686.3 Q1014.4,686.8 1014.7,689.8 L1018.5,737.2" fill="none" stroke="#333" stroke-width="0.75"/>
<path d="M989.2,682.4 L1011.0,687.6 Q1013.1,688.1 1013.4,691.1 L1017.2,737.2" fill="none" stroke="#333" stroke-width="0.5"/>
<path d="M995.9,677.6 L1018.3,682.9 Q1021.3,683.4 1021.6,686.4 L1025.2,733.5" fill="none" stroke="#333" stroke-width="0.75"/>
<path d="M996.3,678.9 L1017.9,684.2 Q1020.0,684.7 1020.3,687.7 L1023.9,733.5" fill="none" stroke="#333" stroke-width="0.5"/>
<path d="M1003.0,674.2 L1025.2,679.5 Q1028.2,680.0 1028.5,683.0 L1031.9,729.8" fill="none" stroke="#333" stroke-width="0.75"/>
<path d="M1003.4,675.5 L1024.8,680.8 Q1026.9,681.3 1027.2,684.3 L1030.6,729.8" fill="none" stroke="#333" stroke-width="0.5"/>
<path d="M1010.2,670.7 L1032.0,676.1 Q1035.0,676.6 1035.3,679.6 L1038.6,726.1" fill="none" stroke="#333" stroke-width="0.75"/>
<path d="M1010.6,672.0 L1031.6,677.4 Q1033.7,677.9 1034.0,680.9 L1037.3,726.1" fill="none" stroke="#333" stroke-width="0.5"/>
<path d="M1017.3,667.3 L1038.9,672.6 Q1041.9,673.1 1042.2,676.1 L1045.4,722.5" fill="none" stroke="#333" stroke-width="0.75"/>
<path d="M1017.7,668.6 L1038.5,673.9 Q1040.6,674.4 1040.9,677.4 L1044.1,722.5" fill="none" stroke="#333" stroke-width="0.5"/>
<path d="M1024.5,663.8 L1045.7,669.2 Q1048.7,669.7 1049.0,672.7 L1052.1,718.8" fill="none" stroke="#333" stroke-width="0.75"/>
<path d="M1024.8,665.1 L1045.4,670.5 Q1047.4,671.0 1047.7,674.0 L1050.8,718.8" fill="none" stroke="#333" stroke-width="0.5"/>
<path d="M1031.6,660.4 L1052.6,665.8 Q1055.6,666.3 1055.9,669.3 L1058.8,715.1" fill="none" stroke="#333" stroke-width="0.75"/>
<path d="M1032.0,661.7 L1052.2,667.1 Q1054.3,667.6 1054.6,670.6 L1057.5,715.1" fill="none" stroke="#333" stroke-width="0.5"/>
<path d="M1038.7,656.9 L1059.5,662.4 Q1062.5,662.9 1062.8,665.9 L1065.5,711.4" fill="none" stroke="#333" stroke-width="0.75"/>
<path d="M1039.1,658.2 L1059.1,663.7 Q1061.2,664.2 1061.5,667.2 L1064.2,711.4" fill="none" stroke="#333" stroke-width="0.5"/>
<path d="M1045.9,653.5 L1066.3,658.9 Q1069.3,659.4 1069.6,662.4 L1072.3,707.7" fill="none" stroke="#333" stroke-width="0.75"/>
<path d="M1046.3,654.8 L1065.9,660.2 Q1068.0,660.7 1068.3,663.7 L1071.0,707.7" fill="none" stroke="#333" stroke-width="0.5"/>
<path d="M1053.0,650.0 L1073.2,655.5 Q1076.2,656.0 1076.5,659.0 L1079.0,704.0" fill="none" stroke="#333" stroke-width="0.75"/>
<path d="M1053.4,651.3 L1072.8,656.8 Q1074.9,657.3 1075.2,660.3 L1077.7,704.0" fill="none" stroke="#333" stroke-width="0.5"/>
<path class="i" d="M1055.0,635.0 L1076.0,631.0 L1082.0,640.0 L1080.0,700.0"/>
<path class="i" d="M1058.0,638.0 L1077.0,635.0 L1080.0,700.0"/>
<path class="i" d="M994.1,760.8 C1000.1,757.3 1017.4,747.5 1030.0,740.0 C1042.7,732.5 1060.8,721.3 1070.0,716.0 C1079.2,710.7 1080.8,710.7 1085.0,708.0 C1089.2,705.3 1093.3,701.3 1095.0,700.0"/>
<ellipse cx="1076" cy="710" rx="3" ry="2" fill="none" stroke="#222" stroke-width="0.8"/>
</svg>
</body></html>
